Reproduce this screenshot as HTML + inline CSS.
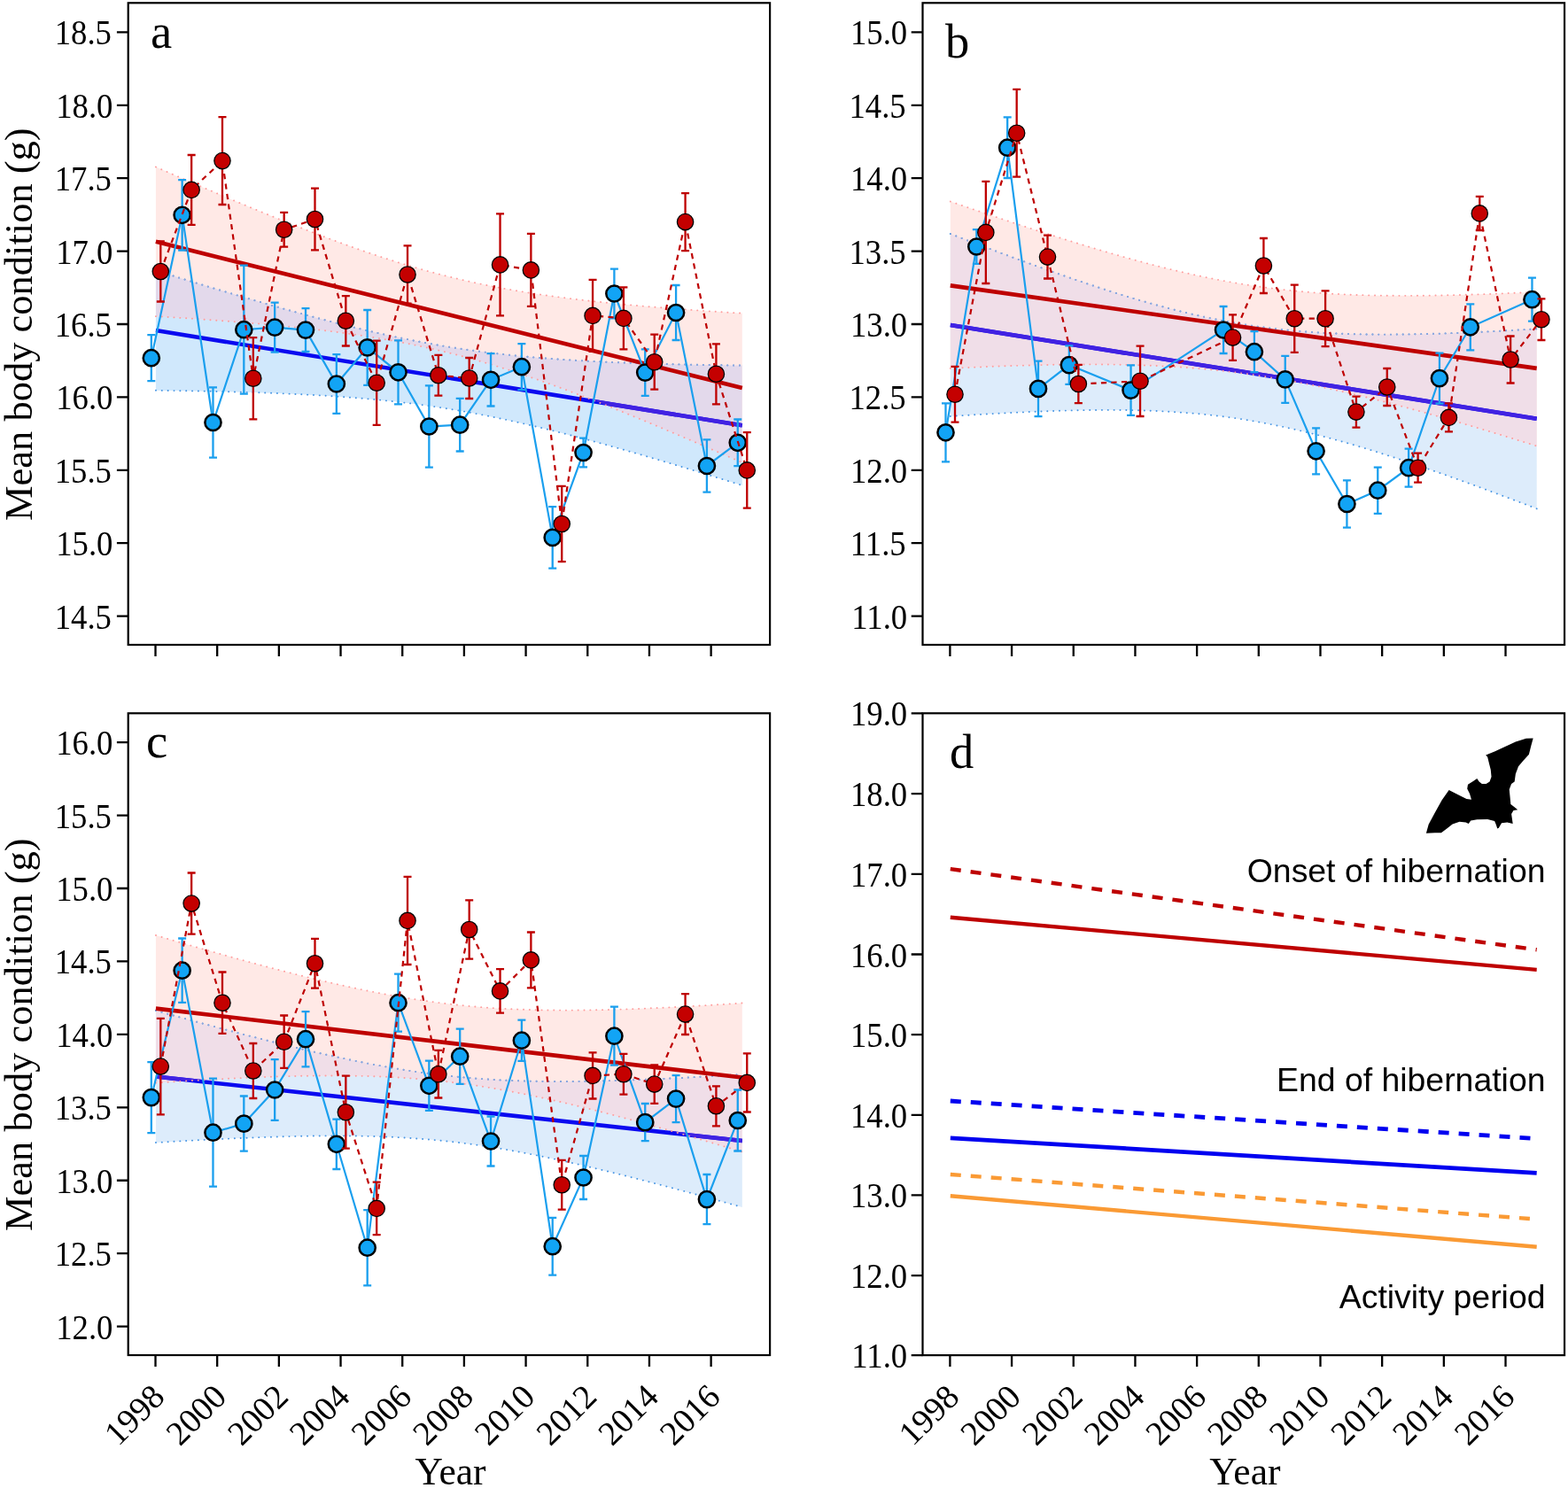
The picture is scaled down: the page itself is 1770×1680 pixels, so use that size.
<!DOCTYPE html>
<html lang="en"><head><meta charset="utf-8"><title>Mean body condition by year</title>
<style>html,body{margin:0;padding:0;background:#fff}body{width:1770px;height:1680px;overflow:hidden}svg{display:block}text{fill:#000}</style>
</head><body>
<svg width="1770" height="1680" viewBox="0 0 1770 1680" role="img" aria-label="Mean body condition by year, panels a to d">
<rect width="1770" height="1680" fill="#fff"/>
<g id="panel-a">
<clipPath id="clip-a"><polygon points="175.9,188.5 186.93,193.32 197.96,198.13 209,202.91 220.03,207.67 231.06,212.41 242.09,217.12 253.12,221.8 264.15,226.45 275.19,231.07 286.22,235.64 297.25,240.18 308.28,244.68 319.31,249.13 330.34,253.53 341.38,257.87 352.41,262.15 363.44,266.36 374.47,270.5 385.5,274.57 396.53,278.55 407.56,282.44 418.6,286.24 429.63,289.93 440.66,293.51 451.69,296.97 462.72,300.32 473.75,303.54 484.79,306.63 495.82,309.58 506.85,312.4 517.88,315.08 528.91,317.63 539.95,320.05 550.98,322.33 562.01,324.49 573.04,326.53 584.07,328.46 595.1,330.27 606.13,331.98 617.17,333.6 628.2,335.12 639.23,336.56 650.26,337.93 661.29,339.22 672.33,340.45 683.36,341.61 694.39,342.72 705.42,343.78 716.45,344.79 727.48,345.76 738.51,346.69 749.55,347.58 760.58,348.44 771.61,349.27 782.64,350.07 793.67,350.84 804.7,351.59 815.74,352.31 826.77,353.02 837.8,353.7 837.8,522.3 826.77,517.48 815.74,512.68 804.7,507.89 793.67,503.13 782.64,498.4 771.61,493.69 760.58,489.01 749.55,484.36 738.51,479.75 727.48,475.17 716.45,470.63 705.42,466.14 694.39,461.69 683.36,457.29 672.33,452.95 661.29,448.67 650.26,444.46 639.23,440.32 628.2,436.25 617.17,432.27 606.13,428.38 595.1,424.58 584.07,420.89 573.04,417.31 562.01,413.84 550.98,410.49 539.95,407.27 528.91,404.18 517.88,401.22 506.85,398.4 495.82,395.71 484.79,393.16 473.75,390.74 462.72,388.45 451.69,386.29 440.66,384.25 429.63,382.33 418.6,380.51 407.56,378.8 396.53,377.18 385.5,375.66 374.47,374.22 363.44,372.85 352.41,371.56 341.38,370.33 330.34,369.17 319.31,368.06 308.28,367 297.25,365.99 286.22,365.02 275.19,364.09 264.15,363.2 253.12,362.35 242.09,361.52 231.06,360.72 220.03,359.95 209,359.21 197.96,358.48 186.93,357.78 175.9,357.1"/></clipPath>
<polygon points="175.9,305.4 186.93,308.83 197.96,312.25 209,315.65 220.03,319.03 231.06,322.4 242.09,325.74 253.12,329.05 264.15,332.34 275.19,335.61 286.22,338.84 297.25,342.04 308.28,345.21 319.31,348.34 330.34,351.43 341.38,354.47 352.41,357.46 363.44,360.41 374.47,363.29 385.5,366.11 396.53,368.87 407.56,371.55 418.6,374.15 429.63,376.68 440.66,379.12 451.69,381.46 462.72,383.72 473.75,385.87 484.79,387.92 495.82,389.86 506.85,391.7 517.88,393.43 528.91,395.06 539.95,396.58 550.98,398 562.01,399.32 573.04,400.54 584.07,401.68 595.1,402.73 606.13,403.69 617.17,404.58 628.2,405.4 639.23,406.15 650.26,406.84 661.29,407.47 672.33,408.05 683.36,408.59 694.39,409.07 705.42,409.52 716.45,409.92 727.48,410.3 738.51,410.64 749.55,410.95 760.58,411.23 771.61,411.49 782.64,411.72 793.67,411.93 804.7,412.13 815.74,412.3 826.77,412.46 837.8,412.6 837.8,548 826.77,544.57 815.74,541.15 804.7,537.75 793.67,534.37 782.64,531.01 771.61,527.67 760.58,524.36 749.55,521.07 738.51,517.8 727.48,514.57 716.45,511.37 705.42,508.2 694.39,505.07 683.36,501.99 672.33,498.95 661.29,495.95 650.26,493.01 639.23,490.13 628.2,487.31 617.17,484.55 606.13,481.87 595.1,479.26 584.07,476.74 573.04,474.3 562.01,471.95 550.98,469.69 539.95,467.54 528.91,465.49 517.88,463.54 506.85,461.7 495.82,459.97 484.79,458.34 473.75,456.81 462.72,455.39 451.69,454.07 440.66,452.84 429.63,451.71 418.6,450.66 407.56,449.69 396.53,448.8 385.5,447.98 374.47,447.23 363.44,446.54 352.41,445.91 341.38,445.33 330.34,444.8 319.31,444.31 308.28,443.87 297.25,443.46 286.22,443.09 275.19,442.75 264.15,442.44 253.12,442.16 242.09,441.9 231.06,441.67 220.03,441.46 209,441.27 197.96,441.1 186.93,440.94 175.9,440.8" fill="#D0E8FC"/>
<polygon points="175.9,188.5 186.93,193.32 197.96,198.13 209,202.91 220.03,207.67 231.06,212.41 242.09,217.12 253.12,221.8 264.15,226.45 275.19,231.07 286.22,235.64 297.25,240.18 308.28,244.68 319.31,249.13 330.34,253.53 341.38,257.87 352.41,262.15 363.44,266.36 374.47,270.5 385.5,274.57 396.53,278.55 407.56,282.44 418.6,286.24 429.63,289.93 440.66,293.51 451.69,296.97 462.72,300.32 473.75,303.54 484.79,306.63 495.82,309.58 506.85,312.4 517.88,315.08 528.91,317.63 539.95,320.05 550.98,322.33 562.01,324.49 573.04,326.53 584.07,328.46 595.1,330.27 606.13,331.98 617.17,333.6 628.2,335.12 639.23,336.56 650.26,337.93 661.29,339.22 672.33,340.45 683.36,341.61 694.39,342.72 705.42,343.78 716.45,344.79 727.48,345.76 738.51,346.69 749.55,347.58 760.58,348.44 771.61,349.27 782.64,350.07 793.67,350.84 804.7,351.59 815.74,352.31 826.77,353.02 837.8,353.7 837.8,522.3 826.77,517.48 815.74,512.68 804.7,507.89 793.67,503.13 782.64,498.4 771.61,493.69 760.58,489.01 749.55,484.36 738.51,479.75 727.48,475.17 716.45,470.63 705.42,466.14 694.39,461.69 683.36,457.29 672.33,452.95 661.29,448.67 650.26,444.46 639.23,440.32 628.2,436.25 617.17,432.27 606.13,428.38 595.1,424.58 584.07,420.89 573.04,417.31 562.01,413.84 550.98,410.49 539.95,407.27 528.91,404.18 517.88,401.22 506.85,398.4 495.82,395.71 484.79,393.16 473.75,390.74 462.72,388.45 451.69,386.29 440.66,384.25 429.63,382.33 418.6,380.51 407.56,378.8 396.53,377.18 385.5,375.66 374.47,374.22 363.44,372.85 352.41,371.56 341.38,370.33 330.34,369.17 319.31,368.06 308.28,367 297.25,365.99 286.22,365.02 275.19,364.09 264.15,363.2 253.12,362.35 242.09,361.52 231.06,360.72 220.03,359.95 209,359.21 197.96,358.48 186.93,357.78 175.9,357.1" fill="#FFE9E6"/>
<polygon points="175.9,305.4 186.93,308.83 197.96,312.25 209,315.65 220.03,319.03 231.06,322.4 242.09,325.74 253.12,329.05 264.15,332.34 275.19,335.61 286.22,338.84 297.25,342.04 308.28,345.21 319.31,348.34 330.34,351.43 341.38,354.47 352.41,357.46 363.44,360.41 374.47,363.29 385.5,366.11 396.53,368.87 407.56,371.55 418.6,374.15 429.63,376.68 440.66,379.12 451.69,381.46 462.72,383.72 473.75,385.87 484.79,387.92 495.82,389.86 506.85,391.7 517.88,393.43 528.91,395.06 539.95,396.58 550.98,398 562.01,399.32 573.04,400.54 584.07,401.68 595.1,402.73 606.13,403.69 617.17,404.58 628.2,405.4 639.23,406.15 650.26,406.84 661.29,407.47 672.33,408.05 683.36,408.59 694.39,409.07 705.42,409.52 716.45,409.92 727.48,410.3 738.51,410.64 749.55,410.95 760.58,411.23 771.61,411.49 782.64,411.72 793.67,411.93 804.7,412.13 815.74,412.3 826.77,412.46 837.8,412.6 837.8,548 826.77,544.57 815.74,541.15 804.7,537.75 793.67,534.37 782.64,531.01 771.61,527.67 760.58,524.36 749.55,521.07 738.51,517.8 727.48,514.57 716.45,511.37 705.42,508.2 694.39,505.07 683.36,501.99 672.33,498.95 661.29,495.95 650.26,493.01 639.23,490.13 628.2,487.31 617.17,484.55 606.13,481.87 595.1,479.26 584.07,476.74 573.04,474.3 562.01,471.95 550.98,469.69 539.95,467.54 528.91,465.49 517.88,463.54 506.85,461.7 495.82,459.97 484.79,458.34 473.75,456.81 462.72,455.39 451.69,454.07 440.66,452.84 429.63,451.71 418.6,450.66 407.56,449.69 396.53,448.8 385.5,447.98 374.47,447.23 363.44,446.54 352.41,445.91 341.38,445.33 330.34,444.8 319.31,444.31 308.28,443.87 297.25,443.46 286.22,443.09 275.19,442.75 264.15,442.44 253.12,442.16 242.09,441.9 231.06,441.67 220.03,441.46 209,441.27 197.96,441.1 186.93,440.94 175.9,440.8" fill="#E3D9EB" clip-path="url(#clip-a)"/>
<polyline points="175.9,305.4 186.93,308.83 197.96,312.25 209,315.65 220.03,319.03 231.06,322.4 242.09,325.74 253.12,329.05 264.15,332.34 275.19,335.61 286.22,338.84 297.25,342.04 308.28,345.21 319.31,348.34 330.34,351.43 341.38,354.47 352.41,357.46 363.44,360.41 374.47,363.29 385.5,366.11 396.53,368.87 407.56,371.55 418.6,374.15 429.63,376.68 440.66,379.12 451.69,381.46 462.72,383.72 473.75,385.87 484.79,387.92 495.82,389.86 506.85,391.7 517.88,393.43 528.91,395.06 539.95,396.58 550.98,398 562.01,399.32 573.04,400.54 584.07,401.68 595.1,402.73 606.13,403.69 617.17,404.58 628.2,405.4 639.23,406.15 650.26,406.84 661.29,407.47 672.33,408.05 683.36,408.59 694.39,409.07 705.42,409.52 716.45,409.92 727.48,410.3 738.51,410.64 749.55,410.95 760.58,411.23 771.61,411.49 782.64,411.72 793.67,411.93 804.7,412.13 815.74,412.3 826.77,412.46 837.8,412.6" stroke="#4896E4" fill="none" stroke-width="1.9" stroke-linecap="round" stroke-dasharray="0.1 6.75"/>
<polyline points="175.9,305.4 186.93,308.83 197.96,312.25 209,315.65 220.03,319.03 231.06,322.4 242.09,325.74 253.12,329.05 264.15,332.34 275.19,335.61 286.22,338.84 297.25,342.04 308.28,345.21 319.31,348.34 330.34,351.43 341.38,354.47 352.41,357.46 363.44,360.41 374.47,363.29 385.5,366.11 396.53,368.87 407.56,371.55 418.6,374.15 429.63,376.68 440.66,379.12 451.69,381.46 462.72,383.72 473.75,385.87 484.79,387.92 495.82,389.86 506.85,391.7 517.88,393.43 528.91,395.06 539.95,396.58 550.98,398 562.01,399.32 573.04,400.54 584.07,401.68 595.1,402.73 606.13,403.69 617.17,404.58 628.2,405.4 639.23,406.15 650.26,406.84 661.29,407.47 672.33,408.05 683.36,408.59 694.39,409.07 705.42,409.52 716.45,409.92 727.48,410.3 738.51,410.64 749.55,410.95 760.58,411.23 771.61,411.49 782.64,411.72 793.67,411.93 804.7,412.13 815.74,412.3 826.77,412.46 837.8,412.6" stroke="#8FA6DE" fill="none" stroke-width="1.9" stroke-linecap="round" stroke-dasharray="0.1 6.75" clip-path="url(#clip-a)"/>
<polyline points="175.9,440.8 186.93,440.94 197.96,441.1 209,441.27 220.03,441.46 231.06,441.67 242.09,441.9 253.12,442.16 264.15,442.44 275.19,442.75 286.22,443.09 297.25,443.46 308.28,443.87 319.31,444.31 330.34,444.8 341.38,445.33 352.41,445.91 363.44,446.54 374.47,447.23 385.5,447.98 396.53,448.8 407.56,449.69 418.6,450.66 429.63,451.71 440.66,452.84 451.69,454.07 462.72,455.39 473.75,456.81 484.79,458.34 495.82,459.97 506.85,461.7 517.88,463.54 528.91,465.49 539.95,467.54 550.98,469.69 562.01,471.95 573.04,474.3 584.07,476.74 595.1,479.26 606.13,481.87 617.17,484.55 628.2,487.31 639.23,490.13 650.26,493.01 661.29,495.95 672.33,498.95 683.36,501.99 694.39,505.07 705.42,508.2 716.45,511.37 727.48,514.57 738.51,517.8 749.55,521.07 760.58,524.36 771.61,527.67 782.64,531.01 793.67,534.37 804.7,537.75 815.74,541.15 826.77,544.57 837.8,548" stroke="#4896E4" fill="none" stroke-width="1.9" stroke-linecap="round" stroke-dasharray="0.1 6.75"/>
<polyline points="175.9,440.8 186.93,440.94 197.96,441.1 209,441.27 220.03,441.46 231.06,441.67 242.09,441.9 253.12,442.16 264.15,442.44 275.19,442.75 286.22,443.09 297.25,443.46 308.28,443.87 319.31,444.31 330.34,444.8 341.38,445.33 352.41,445.91 363.44,446.54 374.47,447.23 385.5,447.98 396.53,448.8 407.56,449.69 418.6,450.66 429.63,451.71 440.66,452.84 451.69,454.07 462.72,455.39 473.75,456.81 484.79,458.34 495.82,459.97 506.85,461.7 517.88,463.54 528.91,465.49 539.95,467.54 550.98,469.69 562.01,471.95 573.04,474.3 584.07,476.74 595.1,479.26 606.13,481.87 617.17,484.55 628.2,487.31 639.23,490.13 650.26,493.01 661.29,495.95 672.33,498.95 683.36,501.99 694.39,505.07 705.42,508.2 716.45,511.37 727.48,514.57 738.51,517.8 749.55,521.07 760.58,524.36 771.61,527.67 782.64,531.01 793.67,534.37 804.7,537.75 815.74,541.15 826.77,544.57 837.8,548" stroke="#8FA6DE" fill="none" stroke-width="1.9" stroke-linecap="round" stroke-dasharray="0.1 6.75" clip-path="url(#clip-a)"/>
<line x1="175.9" y1="373.1" x2="837.8" y2="480.3" stroke="#0A0AF0" stroke-width="4.6"/>
<line x1="175.9" y1="373.1" x2="837.8" y2="480.3" stroke="#4122E2" stroke-width="4.6" clip-path="url(#clip-a)"/>
<polyline points="175.9,188.5 186.93,193.32 197.96,198.13 209,202.91 220.03,207.67 231.06,212.41 242.09,217.12 253.12,221.8 264.15,226.45 275.19,231.07 286.22,235.64 297.25,240.18 308.28,244.68 319.31,249.13 330.34,253.53 341.38,257.87 352.41,262.15 363.44,266.36 374.47,270.5 385.5,274.57 396.53,278.55 407.56,282.44 418.6,286.24 429.63,289.93 440.66,293.51 451.69,296.97 462.72,300.32 473.75,303.54 484.79,306.63 495.82,309.58 506.85,312.4 517.88,315.08 528.91,317.63 539.95,320.05 550.98,322.33 562.01,324.49 573.04,326.53 584.07,328.46 595.1,330.27 606.13,331.98 617.17,333.6 628.2,335.12 639.23,336.56 650.26,337.93 661.29,339.22 672.33,340.45 683.36,341.61 694.39,342.72 705.42,343.78 716.45,344.79 727.48,345.76 738.51,346.69 749.55,347.58 760.58,348.44 771.61,349.27 782.64,350.07 793.67,350.84 804.7,351.59 815.74,352.31 826.77,353.02 837.8,353.7" stroke="#FF9E9E" fill="none" stroke-width="1.9" stroke-linecap="round" stroke-dasharray="0.1 6.75"/>
<polyline points="175.9,357.1 186.93,357.78 197.96,358.48 209,359.21 220.03,359.95 231.06,360.72 242.09,361.52 253.12,362.35 264.15,363.2 275.19,364.09 286.22,365.02 297.25,365.99 308.28,367 319.31,368.06 330.34,369.17 341.38,370.33 352.41,371.56 363.44,372.85 374.47,374.22 385.5,375.66 396.53,377.18 407.56,378.8 418.6,380.51 429.63,382.33 440.66,384.25 451.69,386.29 462.72,388.45 473.75,390.74 484.79,393.16 495.82,395.71 506.85,398.4 517.88,401.22 528.91,404.18 539.95,407.27 550.98,410.49 562.01,413.84 573.04,417.31 584.07,420.89 595.1,424.58 606.13,428.38 617.17,432.27 628.2,436.25 639.23,440.32 650.26,444.46 661.29,448.67 672.33,452.95 683.36,457.29 694.39,461.69 705.42,466.14 716.45,470.63 727.48,475.17 738.51,479.75 749.55,484.36 760.58,489.01 771.61,493.69 782.64,498.4 793.67,503.13 804.7,507.89 815.74,512.68 826.77,517.48 837.8,522.3" stroke="#FF9E9E" fill="none" stroke-width="1.9" stroke-linecap="round" stroke-dasharray="0.1 6.75"/>
<line x1="175.9" y1="272.8" x2="837.8" y2="438" stroke="#BE0000" stroke-width="4.6"/>
<path d="M170.8 378.2V430.2 M166.3 378.2h9 M166.3 430.2h9 M205.64 203.1V282.5 M201.14 203.1h9 M201.14 282.5h9 M240.48 437.3V516.7 M235.98 437.3h9 M235.98 516.7h9 M275.32 299.7V444.7 M270.82 299.7h9 M270.82 444.7h9 M310.16 341.6V397.6 M305.66 341.6h9 M305.66 397.6h9 M345 348.2V397 M340.5 348.2h9 M340.5 397h9 M379.84 400.2V466.8 M375.34 400.2h9 M375.34 466.8h9 M414.68 350V434.8 M410.18 350h9 M410.18 434.8h9 M449.52 384.3V456.3 M445.02 384.3h9 M445.02 456.3h9 M484.36 435.3V527.7 M479.86 435.3h9 M479.86 527.7h9 M519.2 449.9V509.5 M514.7 449.9h9 M514.7 509.5h9 M554.04 399.1V458.5 M549.54 399.1h9 M549.54 458.5h9 M588.88 388.2V440.2 M584.38 388.2h9 M584.38 440.2h9 M623.72 572.1V641.7 M619.22 572.1h9 M619.22 641.7h9 M658.56 494.6V527.4 M654.06 494.6h9 M654.06 527.4h9 M693.4 303.6V359.4 M688.9 303.6h9 M688.9 359.4h9 M728.24 394.3V446.9 M723.74 394.3h9 M723.74 446.9h9 M763.08 322V384 M758.58 322h9 M758.58 384h9 M797.92 496.4V555.6 M793.42 496.4h9 M793.42 555.6h9 M832.76 473.5V526.1 M828.26 473.5h9 M828.26 526.1h9" fill="none" stroke="#1A9FEE" stroke-width="2.3"/>
<polyline points="170.8,404.2 205.64,242.8 240.48,477 275.32,372.2 310.16,369.6 345,372.6 379.84,433.5 414.68,392.4 449.52,420.3 484.36,481.5 519.2,479.7 554.04,428.8 588.88,414.2 623.72,606.9 658.56,511 693.4,331.5 728.24,420.6 763.08,353 797.92,526 832.76,499.8" fill="none" stroke="#1A9FEE" stroke-width="2.2"/>
<circle cx="170.8" cy="404.2" r="9.1" fill="#12A4F5" stroke="#000" stroke-width="2.5"/>
<circle cx="205.64" cy="242.8" r="9.1" fill="#12A4F5" stroke="#000" stroke-width="2.5"/>
<circle cx="240.48" cy="477" r="9.1" fill="#12A4F5" stroke="#000" stroke-width="2.5"/>
<circle cx="275.32" cy="372.2" r="9.1" fill="#12A4F5" stroke="#000" stroke-width="2.5"/>
<circle cx="310.16" cy="369.6" r="9.1" fill="#12A4F5" stroke="#000" stroke-width="2.5"/>
<circle cx="345" cy="372.6" r="9.1" fill="#12A4F5" stroke="#000" stroke-width="2.5"/>
<circle cx="379.84" cy="433.5" r="9.1" fill="#12A4F5" stroke="#000" stroke-width="2.5"/>
<circle cx="414.68" cy="392.4" r="9.1" fill="#12A4F5" stroke="#000" stroke-width="2.5"/>
<circle cx="449.52" cy="420.3" r="9.1" fill="#12A4F5" stroke="#000" stroke-width="2.5"/>
<circle cx="484.36" cy="481.5" r="9.1" fill="#12A4F5" stroke="#000" stroke-width="2.5"/>
<circle cx="519.2" cy="479.7" r="9.1" fill="#12A4F5" stroke="#000" stroke-width="2.5"/>
<circle cx="554.04" cy="428.8" r="9.1" fill="#12A4F5" stroke="#000" stroke-width="2.5"/>
<circle cx="588.88" cy="414.2" r="9.1" fill="#12A4F5" stroke="#000" stroke-width="2.5"/>
<circle cx="623.72" cy="606.9" r="9.1" fill="#12A4F5" stroke="#000" stroke-width="2.5"/>
<circle cx="658.56" cy="511" r="9.1" fill="#12A4F5" stroke="#000" stroke-width="2.5"/>
<circle cx="693.4" cy="331.5" r="9.1" fill="#12A4F5" stroke="#000" stroke-width="2.5"/>
<circle cx="728.24" cy="420.6" r="9.1" fill="#12A4F5" stroke="#000" stroke-width="2.5"/>
<circle cx="763.08" cy="353" r="9.1" fill="#12A4F5" stroke="#000" stroke-width="2.5"/>
<circle cx="797.92" cy="526" r="9.1" fill="#12A4F5" stroke="#000" stroke-width="2.5"/>
<circle cx="832.76" cy="499.8" r="9.1" fill="#12A4F5" stroke="#000" stroke-width="2.5"/>
<path d="M181.3 272.5V340.5 M176.8 272.5h9 M176.8 340.5h9 M216.14 175V253.8 M211.64 175h9 M211.64 253.8h9 M250.98 132.2V231 M246.48 132.2h9 M246.48 231h9 M285.82 381.2V473.4 M281.32 381.2h9 M281.32 473.4h9 M320.66 239.9V278.7 M316.16 239.9h9 M316.16 278.7h9 M355.5 212.6V282.4 M351 212.6h9 M351 282.4h9 M390.34 334.1V390.5 M385.84 334.1h9 M385.84 390.5h9 M425.18 384.7V479.9 M420.68 384.7h9 M420.68 479.9h9 M460.02 277.3V342.7 M455.52 277.3h9 M455.52 342.7h9 M494.86 400.8V446.6 M490.36 400.8h9 M490.36 446.6h9 M529.7 404V450 M525.2 404h9 M525.2 450h9 M564.54 241.4V356.4 M560.04 241.4h9 M560.04 356.4h9 M599.38 263.9V345.9 M594.88 263.9h9 M594.88 345.9h9 M634.22 548.9V634.1 M629.72 548.9h9 M629.72 634.1h9 M669.06 315.9V396.9 M664.56 315.9h9 M664.56 396.9h9 M703.9 324.4V394.4 M699.4 324.4h9 M699.4 394.4h9 M738.74 377.7V439.7 M734.24 377.7h9 M734.24 439.7h9 M773.58 218.1V283.1 M769.08 218.1h9 M769.08 283.1h9 M808.42 388.3V456.3 M803.92 388.3h9 M803.92 456.3h9 M843.26 488.1V573.7 M838.76 488.1h9 M838.76 573.7h9" fill="none" stroke="#BE0000" stroke-width="2.3"/>
<polyline points="181.3,306.5 216.14,214.4 250.98,181.6 285.82,427.3 320.66,259.3 355.5,247.5 390.34,362.3 425.18,432.3 460.02,310 494.86,423.7 529.7,427 564.54,298.9 599.38,304.9 634.22,591.5 669.06,356.4 703.9,359.4 738.74,408.7 773.58,250.6 808.42,422.3 843.26,530.9" fill="none" stroke="#BE0000" stroke-width="2.2" stroke-dasharray="6.2 5.3"/>
<circle cx="181.3" cy="306.5" r="9.15" fill="#C40000" stroke="#000" stroke-width="1.3"/>
<circle cx="216.14" cy="214.4" r="9.15" fill="#C40000" stroke="#000" stroke-width="1.3"/>
<circle cx="250.98" cy="181.6" r="9.15" fill="#C40000" stroke="#000" stroke-width="1.3"/>
<circle cx="285.82" cy="427.3" r="9.15" fill="#C40000" stroke="#000" stroke-width="1.3"/>
<circle cx="320.66" cy="259.3" r="9.15" fill="#C40000" stroke="#000" stroke-width="1.3"/>
<circle cx="355.5" cy="247.5" r="9.15" fill="#C40000" stroke="#000" stroke-width="1.3"/>
<circle cx="390.34" cy="362.3" r="9.15" fill="#C40000" stroke="#000" stroke-width="1.3"/>
<circle cx="425.18" cy="432.3" r="9.15" fill="#C40000" stroke="#000" stroke-width="1.3"/>
<circle cx="460.02" cy="310" r="9.15" fill="#C40000" stroke="#000" stroke-width="1.3"/>
<circle cx="494.86" cy="423.7" r="9.15" fill="#C40000" stroke="#000" stroke-width="1.3"/>
<circle cx="529.7" cy="427" r="9.15" fill="#C40000" stroke="#000" stroke-width="1.3"/>
<circle cx="564.54" cy="298.9" r="9.15" fill="#C40000" stroke="#000" stroke-width="1.3"/>
<circle cx="599.38" cy="304.9" r="9.15" fill="#C40000" stroke="#000" stroke-width="1.3"/>
<circle cx="634.22" cy="591.5" r="9.15" fill="#C40000" stroke="#000" stroke-width="1.3"/>
<circle cx="669.06" cy="356.4" r="9.15" fill="#C40000" stroke="#000" stroke-width="1.3"/>
<circle cx="703.9" cy="359.4" r="9.15" fill="#C40000" stroke="#000" stroke-width="1.3"/>
<circle cx="738.74" cy="408.7" r="9.15" fill="#C40000" stroke="#000" stroke-width="1.3"/>
<circle cx="773.58" cy="250.6" r="9.15" fill="#C40000" stroke="#000" stroke-width="1.3"/>
<circle cx="808.42" cy="422.3" r="9.15" fill="#C40000" stroke="#000" stroke-width="1.3"/>
<circle cx="843.26" cy="530.9" r="9.15" fill="#C40000" stroke="#000" stroke-width="1.3"/>
<rect x="144.7" y="3.3" width="724.4" height="724.7" fill="none" stroke="#000" stroke-width="2.2"/>
<path d="M144.7 36.4h-12.8 M144.7 118.8h-12.8 M144.7 201.2h-12.8 M144.7 283.6h-12.8 M144.7 366h-12.8 M144.7 448.4h-12.8 M144.7 530.8h-12.8 M144.7 613.2h-12.8 M144.7 695.6h-12.8 M175.5 728v12.9 M245.18 728v12.9 M314.86 728v12.9 M384.54 728v12.9 M454.22 728v12.9 M523.9 728v12.9 M593.58 728v12.9 M663.26 728v12.9 M732.94 728v12.9 M802.62 728v12.9" fill="none" stroke="#000" stroke-width="2.3"/>
<g font-family='"Liberation Serif", serif' font-size="41" text-anchor="end">
<text transform="translate(125.9 50.4) scale(0.895 1)">18.5</text>
<text transform="translate(127.4 132.8) scale(0.895 1)">18.0</text>
<text transform="translate(125.9 215.2) scale(0.895 1)">17.5</text>
<text transform="translate(127.4 297.6) scale(0.895 1)">17.0</text>
<text transform="translate(125.9 380) scale(0.895 1)">16.5</text>
<text transform="translate(127.4 462.4) scale(0.895 1)">16.0</text>
<text transform="translate(125.9 544.8) scale(0.895 1)">15.5</text>
<text transform="translate(127.4 627.2) scale(0.895 1)">15.0</text>
<text transform="translate(125.9 709.6) scale(0.895 1)">14.5</text>
</g>
<text x="170" y="53.7" font-family='"Liberation Serif", serif' font-size="54.5">a</text>
<text transform="translate(36 366.15) rotate(-90)" font-family='"Liberation Serif", serif' font-size="44.5" text-anchor="middle">Mean body condition (g)</text>
</g>
<g id="panel-b">
<clipPath id="clip-b"><polygon points="1072.8,227.5 1083.83,231.29 1094.86,235.05 1105.89,238.8 1116.93,242.52 1127.96,246.22 1138.99,249.9 1150.02,253.54 1161.05,257.15 1172.09,260.74 1183.12,264.28 1194.15,267.79 1205.18,271.25 1216.21,274.67 1227.24,278.04 1238.27,281.36 1249.31,284.62 1260.34,287.81 1271.37,290.94 1282.4,293.99 1293.43,296.97 1304.46,299.86 1315.5,302.65 1326.53,305.35 1337.56,307.95 1348.59,310.43 1359.62,312.79 1370.65,315.04 1381.69,317.15 1392.72,319.13 1403.75,320.98 1414.78,322.69 1425.81,324.25 1436.84,325.69 1447.88,326.99 1458.91,328.17 1469.94,329.21 1480.97,330.14 1492,330.95 1503.03,331.64 1514.07,332.23 1525.1,332.72 1536.13,333.11 1547.16,333.41 1558.19,333.63 1569.22,333.77 1580.26,333.84 1591.29,333.84 1602.32,333.78 1613.35,333.66 1624.38,333.49 1635.41,333.27 1646.45,333 1657.48,332.69 1668.51,332.35 1679.54,331.96 1690.57,331.55 1701.61,331.1 1712.64,330.63 1723.67,330.13 1734.7,329.6 1734.7,503.6 1723.67,500.14 1712.64,496.71 1701.61,493.3 1690.57,489.92 1679.54,486.58 1668.51,483.26 1657.48,479.98 1646.45,476.74 1635.41,473.53 1624.38,470.37 1613.35,467.26 1602.32,464.19 1591.29,461.18 1580.26,458.22 1569.22,455.32 1558.19,452.48 1547.16,449.71 1536.13,447.02 1525.1,444.4 1514.07,441.86 1503.03,439.4 1492,437.03 1480.97,434.76 1469.94,432.58 1458.91,430.5 1447.88,428.52 1436.84,426.65 1425.81,424.88 1414.78,423.22 1403.75,421.67 1392.72,420.24 1381.69,418.93 1370.65,417.75 1359.62,416.67 1348.59,415.72 1337.56,414.87 1326.53,414.13 1315.5,413.48 1304.46,412.94 1293.43,412.49 1282.4,412.12 1271.37,411.83 1260.34,411.62 1249.31,411.49 1238.27,411.42 1227.24,411.41 1216.21,411.46 1205.18,411.56 1194.15,411.72 1183.12,411.92 1172.09,412.16 1161.05,412.45 1150.02,412.77 1138.99,413.13 1127.96,413.52 1116.93,413.94 1105.89,414.4 1094.86,414.87 1083.83,415.37 1072.8,415.9"/></clipPath>
<polygon points="1072.8,264 1083.83,268.24 1094.86,272.46 1105.89,276.65 1116.93,280.82 1127.96,284.95 1138.99,289.05 1150.02,293.12 1161.05,297.14 1172.09,301.13 1183.12,305.07 1194.15,308.96 1205.18,312.8 1216.21,316.58 1227.24,320.3 1238.27,323.95 1249.31,327.53 1260.34,331.03 1271.37,334.45 1282.4,337.77 1293.43,340.99 1304.46,344.1 1315.5,347.1 1326.53,349.98 1337.56,352.73 1348.59,355.35 1359.62,357.82 1370.65,360.15 1381.69,362.32 1392.72,364.34 1403.75,366.2 1414.78,367.9 1425.81,369.45 1436.84,370.85 1447.88,372.1 1458.91,373.2 1469.94,374.16 1480.97,374.99 1492,375.69 1503.03,376.28 1514.07,376.74 1525.1,377.1 1536.13,377.36 1547.16,377.53 1558.19,377.61 1569.22,377.62 1580.26,377.55 1591.29,377.41 1602.32,377.2 1613.35,376.94 1624.38,376.63 1635.41,376.26 1646.45,375.85 1657.48,375.4 1668.51,374.91 1679.54,374.39 1690.57,373.83 1701.61,373.24 1712.64,372.62 1723.67,371.97 1734.7,371.3 1734.7,574.3 1723.67,570.1 1712.64,565.93 1701.61,561.78 1690.57,557.67 1679.54,553.58 1668.51,549.53 1657.48,545.51 1646.45,541.53 1635.41,537.6 1624.38,533.71 1613.35,529.86 1602.32,526.08 1591.29,522.35 1580.26,518.68 1569.22,515.08 1558.19,511.56 1547.16,508.11 1536.13,504.76 1525.1,501.49 1514.07,498.32 1503.03,495.26 1492,492.32 1480.97,489.49 1469.94,486.8 1458.91,484.23 1447.88,481.81 1436.84,479.53 1425.81,477.4 1414.78,475.42 1403.75,473.6 1392.72,471.93 1381.69,470.43 1370.65,469.07 1359.62,467.87 1348.59,466.82 1337.56,465.91 1326.53,465.13 1315.5,464.48 1304.46,463.96 1293.43,463.54 1282.4,463.24 1271.37,463.03 1260.34,462.92 1249.31,462.89 1238.27,462.95 1227.24,463.07 1216.21,463.26 1205.18,463.52 1194.15,463.83 1183.12,464.2 1172.09,464.61 1161.05,465.07 1150.02,465.57 1138.99,466.11 1127.96,466.68 1116.93,467.29 1105.89,467.93 1094.86,468.59 1083.83,469.28 1072.8,470" fill="#DDECFB"/>
<polygon points="1072.8,227.5 1083.83,231.29 1094.86,235.05 1105.89,238.8 1116.93,242.52 1127.96,246.22 1138.99,249.9 1150.02,253.54 1161.05,257.15 1172.09,260.74 1183.12,264.28 1194.15,267.79 1205.18,271.25 1216.21,274.67 1227.24,278.04 1238.27,281.36 1249.31,284.62 1260.34,287.81 1271.37,290.94 1282.4,293.99 1293.43,296.97 1304.46,299.86 1315.5,302.65 1326.53,305.35 1337.56,307.95 1348.59,310.43 1359.62,312.79 1370.65,315.04 1381.69,317.15 1392.72,319.13 1403.75,320.98 1414.78,322.69 1425.81,324.25 1436.84,325.69 1447.88,326.99 1458.91,328.17 1469.94,329.21 1480.97,330.14 1492,330.95 1503.03,331.64 1514.07,332.23 1525.1,332.72 1536.13,333.11 1547.16,333.41 1558.19,333.63 1569.22,333.77 1580.26,333.84 1591.29,333.84 1602.32,333.78 1613.35,333.66 1624.38,333.49 1635.41,333.27 1646.45,333 1657.48,332.69 1668.51,332.35 1679.54,331.96 1690.57,331.55 1701.61,331.1 1712.64,330.63 1723.67,330.13 1734.7,329.6 1734.7,503.6 1723.67,500.14 1712.64,496.71 1701.61,493.3 1690.57,489.92 1679.54,486.58 1668.51,483.26 1657.48,479.98 1646.45,476.74 1635.41,473.53 1624.38,470.37 1613.35,467.26 1602.32,464.19 1591.29,461.18 1580.26,458.22 1569.22,455.32 1558.19,452.48 1547.16,449.71 1536.13,447.02 1525.1,444.4 1514.07,441.86 1503.03,439.4 1492,437.03 1480.97,434.76 1469.94,432.58 1458.91,430.5 1447.88,428.52 1436.84,426.65 1425.81,424.88 1414.78,423.22 1403.75,421.67 1392.72,420.24 1381.69,418.93 1370.65,417.75 1359.62,416.67 1348.59,415.72 1337.56,414.87 1326.53,414.13 1315.5,413.48 1304.46,412.94 1293.43,412.49 1282.4,412.12 1271.37,411.83 1260.34,411.62 1249.31,411.49 1238.27,411.42 1227.24,411.41 1216.21,411.46 1205.18,411.56 1194.15,411.72 1183.12,411.92 1172.09,412.16 1161.05,412.45 1150.02,412.77 1138.99,413.13 1127.96,413.52 1116.93,413.94 1105.89,414.4 1094.86,414.87 1083.83,415.37 1072.8,415.9" fill="#FFE9E6"/>
<polygon points="1072.8,264 1083.83,268.24 1094.86,272.46 1105.89,276.65 1116.93,280.82 1127.96,284.95 1138.99,289.05 1150.02,293.12 1161.05,297.14 1172.09,301.13 1183.12,305.07 1194.15,308.96 1205.18,312.8 1216.21,316.58 1227.24,320.3 1238.27,323.95 1249.31,327.53 1260.34,331.03 1271.37,334.45 1282.4,337.77 1293.43,340.99 1304.46,344.1 1315.5,347.1 1326.53,349.98 1337.56,352.73 1348.59,355.35 1359.62,357.82 1370.65,360.15 1381.69,362.32 1392.72,364.34 1403.75,366.2 1414.78,367.9 1425.81,369.45 1436.84,370.85 1447.88,372.1 1458.91,373.2 1469.94,374.16 1480.97,374.99 1492,375.69 1503.03,376.28 1514.07,376.74 1525.1,377.1 1536.13,377.36 1547.16,377.53 1558.19,377.61 1569.22,377.62 1580.26,377.55 1591.29,377.41 1602.32,377.2 1613.35,376.94 1624.38,376.63 1635.41,376.26 1646.45,375.85 1657.48,375.4 1668.51,374.91 1679.54,374.39 1690.57,373.83 1701.61,373.24 1712.64,372.62 1723.67,371.97 1734.7,371.3 1734.7,574.3 1723.67,570.1 1712.64,565.93 1701.61,561.78 1690.57,557.67 1679.54,553.58 1668.51,549.53 1657.48,545.51 1646.45,541.53 1635.41,537.6 1624.38,533.71 1613.35,529.86 1602.32,526.08 1591.29,522.35 1580.26,518.68 1569.22,515.08 1558.19,511.56 1547.16,508.11 1536.13,504.76 1525.1,501.49 1514.07,498.32 1503.03,495.26 1492,492.32 1480.97,489.49 1469.94,486.8 1458.91,484.23 1447.88,481.81 1436.84,479.53 1425.81,477.4 1414.78,475.42 1403.75,473.6 1392.72,471.93 1381.69,470.43 1370.65,469.07 1359.62,467.87 1348.59,466.82 1337.56,465.91 1326.53,465.13 1315.5,464.48 1304.46,463.96 1293.43,463.54 1282.4,463.24 1271.37,463.03 1260.34,462.92 1249.31,462.89 1238.27,462.95 1227.24,463.07 1216.21,463.26 1205.18,463.52 1194.15,463.83 1183.12,464.2 1172.09,464.61 1161.05,465.07 1150.02,465.57 1138.99,466.11 1127.96,466.68 1116.93,467.29 1105.89,467.93 1094.86,468.59 1083.83,469.28 1072.8,470" fill="#F0DEE8" clip-path="url(#clip-b)"/>
<polyline points="1072.8,264 1083.83,268.24 1094.86,272.46 1105.89,276.65 1116.93,280.82 1127.96,284.95 1138.99,289.05 1150.02,293.12 1161.05,297.14 1172.09,301.13 1183.12,305.07 1194.15,308.96 1205.18,312.8 1216.21,316.58 1227.24,320.3 1238.27,323.95 1249.31,327.53 1260.34,331.03 1271.37,334.45 1282.4,337.77 1293.43,340.99 1304.46,344.1 1315.5,347.1 1326.53,349.98 1337.56,352.73 1348.59,355.35 1359.62,357.82 1370.65,360.15 1381.69,362.32 1392.72,364.34 1403.75,366.2 1414.78,367.9 1425.81,369.45 1436.84,370.85 1447.88,372.1 1458.91,373.2 1469.94,374.16 1480.97,374.99 1492,375.69 1503.03,376.28 1514.07,376.74 1525.1,377.1 1536.13,377.36 1547.16,377.53 1558.19,377.61 1569.22,377.62 1580.26,377.55 1591.29,377.41 1602.32,377.2 1613.35,376.94 1624.38,376.63 1635.41,376.26 1646.45,375.85 1657.48,375.4 1668.51,374.91 1679.54,374.39 1690.57,373.83 1701.61,373.24 1712.64,372.62 1723.67,371.97 1734.7,371.3" stroke="#4896E4" fill="none" stroke-width="1.9" stroke-linecap="round" stroke-dasharray="0.1 6.75"/>
<polyline points="1072.8,264 1083.83,268.24 1094.86,272.46 1105.89,276.65 1116.93,280.82 1127.96,284.95 1138.99,289.05 1150.02,293.12 1161.05,297.14 1172.09,301.13 1183.12,305.07 1194.15,308.96 1205.18,312.8 1216.21,316.58 1227.24,320.3 1238.27,323.95 1249.31,327.53 1260.34,331.03 1271.37,334.45 1282.4,337.77 1293.43,340.99 1304.46,344.1 1315.5,347.1 1326.53,349.98 1337.56,352.73 1348.59,355.35 1359.62,357.82 1370.65,360.15 1381.69,362.32 1392.72,364.34 1403.75,366.2 1414.78,367.9 1425.81,369.45 1436.84,370.85 1447.88,372.1 1458.91,373.2 1469.94,374.16 1480.97,374.99 1492,375.69 1503.03,376.28 1514.07,376.74 1525.1,377.1 1536.13,377.36 1547.16,377.53 1558.19,377.61 1569.22,377.62 1580.26,377.55 1591.29,377.41 1602.32,377.2 1613.35,376.94 1624.38,376.63 1635.41,376.26 1646.45,375.85 1657.48,375.4 1668.51,374.91 1679.54,374.39 1690.57,373.83 1701.61,373.24 1712.64,372.62 1723.67,371.97 1734.7,371.3" stroke="#8FA6DE" fill="none" stroke-width="1.9" stroke-linecap="round" stroke-dasharray="0.1 6.75" clip-path="url(#clip-b)"/>
<polyline points="1072.8,470 1083.83,469.28 1094.86,468.59 1105.89,467.93 1116.93,467.29 1127.96,466.68 1138.99,466.11 1150.02,465.57 1161.05,465.07 1172.09,464.61 1183.12,464.2 1194.15,463.83 1205.18,463.52 1216.21,463.26 1227.24,463.07 1238.27,462.95 1249.31,462.89 1260.34,462.92 1271.37,463.03 1282.4,463.24 1293.43,463.54 1304.46,463.96 1315.5,464.48 1326.53,465.13 1337.56,465.91 1348.59,466.82 1359.62,467.87 1370.65,469.07 1381.69,470.43 1392.72,471.93 1403.75,473.6 1414.78,475.42 1425.81,477.4 1436.84,479.53 1447.88,481.81 1458.91,484.23 1469.94,486.8 1480.97,489.49 1492,492.32 1503.03,495.26 1514.07,498.32 1525.1,501.49 1536.13,504.76 1547.16,508.11 1558.19,511.56 1569.22,515.08 1580.26,518.68 1591.29,522.35 1602.32,526.08 1613.35,529.86 1624.38,533.71 1635.41,537.6 1646.45,541.53 1657.48,545.51 1668.51,549.53 1679.54,553.58 1690.57,557.67 1701.61,561.78 1712.64,565.93 1723.67,570.1 1734.7,574.3" stroke="#4896E4" fill="none" stroke-width="1.9" stroke-linecap="round" stroke-dasharray="0.1 6.75"/>
<polyline points="1072.8,470 1083.83,469.28 1094.86,468.59 1105.89,467.93 1116.93,467.29 1127.96,466.68 1138.99,466.11 1150.02,465.57 1161.05,465.07 1172.09,464.61 1183.12,464.2 1194.15,463.83 1205.18,463.52 1216.21,463.26 1227.24,463.07 1238.27,462.95 1249.31,462.89 1260.34,462.92 1271.37,463.03 1282.4,463.24 1293.43,463.54 1304.46,463.96 1315.5,464.48 1326.53,465.13 1337.56,465.91 1348.59,466.82 1359.62,467.87 1370.65,469.07 1381.69,470.43 1392.72,471.93 1403.75,473.6 1414.78,475.42 1425.81,477.4 1436.84,479.53 1447.88,481.81 1458.91,484.23 1469.94,486.8 1480.97,489.49 1492,492.32 1503.03,495.26 1514.07,498.32 1525.1,501.49 1536.13,504.76 1547.16,508.11 1558.19,511.56 1569.22,515.08 1580.26,518.68 1591.29,522.35 1602.32,526.08 1613.35,529.86 1624.38,533.71 1635.41,537.6 1646.45,541.53 1657.48,545.51 1668.51,549.53 1679.54,553.58 1690.57,557.67 1701.61,561.78 1712.64,565.93 1723.67,570.1 1734.7,574.3" stroke="#8FA6DE" fill="none" stroke-width="1.9" stroke-linecap="round" stroke-dasharray="0.1 6.75" clip-path="url(#clip-b)"/>
<line x1="1072.8" y1="367" x2="1734.7" y2="472.8" stroke="#0A0AF0" stroke-width="4.6"/>
<line x1="1072.8" y1="367" x2="1734.7" y2="472.8" stroke="#4122E2" stroke-width="4.6" clip-path="url(#clip-b)"/>
<polyline points="1072.8,227.5 1083.83,231.29 1094.86,235.05 1105.89,238.8 1116.93,242.52 1127.96,246.22 1138.99,249.9 1150.02,253.54 1161.05,257.15 1172.09,260.74 1183.12,264.28 1194.15,267.79 1205.18,271.25 1216.21,274.67 1227.24,278.04 1238.27,281.36 1249.31,284.62 1260.34,287.81 1271.37,290.94 1282.4,293.99 1293.43,296.97 1304.46,299.86 1315.5,302.65 1326.53,305.35 1337.56,307.95 1348.59,310.43 1359.62,312.79 1370.65,315.04 1381.69,317.15 1392.72,319.13 1403.75,320.98 1414.78,322.69 1425.81,324.25 1436.84,325.69 1447.88,326.99 1458.91,328.17 1469.94,329.21 1480.97,330.14 1492,330.95 1503.03,331.64 1514.07,332.23 1525.1,332.72 1536.13,333.11 1547.16,333.41 1558.19,333.63 1569.22,333.77 1580.26,333.84 1591.29,333.84 1602.32,333.78 1613.35,333.66 1624.38,333.49 1635.41,333.27 1646.45,333 1657.48,332.69 1668.51,332.35 1679.54,331.96 1690.57,331.55 1701.61,331.1 1712.64,330.63 1723.67,330.13 1734.7,329.6" stroke="#FF9E9E" fill="none" stroke-width="1.9" stroke-linecap="round" stroke-dasharray="0.1 6.75"/>
<polyline points="1072.8,415.9 1083.83,415.37 1094.86,414.87 1105.89,414.4 1116.93,413.94 1127.96,413.52 1138.99,413.13 1150.02,412.77 1161.05,412.45 1172.09,412.16 1183.12,411.92 1194.15,411.72 1205.18,411.56 1216.21,411.46 1227.24,411.41 1238.27,411.42 1249.31,411.49 1260.34,411.62 1271.37,411.83 1282.4,412.12 1293.43,412.49 1304.46,412.94 1315.5,413.48 1326.53,414.13 1337.56,414.87 1348.59,415.72 1359.62,416.67 1370.65,417.75 1381.69,418.93 1392.72,420.24 1403.75,421.67 1414.78,423.22 1425.81,424.88 1436.84,426.65 1447.88,428.52 1458.91,430.5 1469.94,432.58 1480.97,434.76 1492,437.03 1503.03,439.4 1514.07,441.86 1525.1,444.4 1536.13,447.02 1547.16,449.71 1558.19,452.48 1569.22,455.32 1580.26,458.22 1591.29,461.18 1602.32,464.19 1613.35,467.26 1624.38,470.37 1635.41,473.53 1646.45,476.74 1657.48,479.98 1668.51,483.26 1679.54,486.58 1690.57,489.92 1701.61,493.3 1712.64,496.71 1723.67,500.14 1734.7,503.6" stroke="#FF9E9E" fill="none" stroke-width="1.9" stroke-linecap="round" stroke-dasharray="0.1 6.75"/>
<line x1="1072.8" y1="322.4" x2="1734.7" y2="415.9" stroke="#BE0000" stroke-width="4.6"/>
<path d="M1067.5 455.3V521.3 M1063 455.3h9 M1063 521.3h9 M1102.34 259.2V297.8 M1097.84 259.2h9 M1097.84 297.8h9 M1137.18 132.4V201 M1132.68 132.4h9 M1132.68 201h9 M1172.02 407.6V470.2 M1167.52 407.6h9 M1167.52 470.2h9 M1206.86 390.3V433.9 M1202.36 390.3h9 M1202.36 433.9h9 M1276.54 412.3V468.9 M1272.04 412.3h9 M1272.04 468.9h9 M1381.06 346V399 M1376.56 346h9 M1376.56 399h9 M1415.9 374.2V420.2 M1411.4 374.2h9 M1411.4 420.2h9 M1450.74 401.9V454.9 M1446.24 401.9h9 M1446.24 454.9h9 M1485.58 483.3V535.3 M1481.08 483.3h9 M1481.08 535.3h9 M1520.42 542.4V595.6 M1515.92 542.4h9 M1515.92 595.6h9 M1555.26 527.6V579.8 M1550.76 527.6h9 M1550.76 579.8h9 M1590.1 506.7V549.7 M1585.6 506.7h9 M1585.6 549.7h9 M1624.94 398.6V455.6 M1620.44 398.6h9 M1620.44 455.6h9 M1659.78 343.3V395.3 M1655.28 343.3h9 M1655.28 395.3h9 M1729.46 313.7V362.7 M1724.96 313.7h9 M1724.96 362.7h9" fill="none" stroke="#1A9FEE" stroke-width="2.3"/>
<polyline points="1067.5,488.3 1102.34,278.5 1137.18,166.7 1172.02,438.9 1206.86,412.1 1276.54,440.6 1381.06,372.5 1415.9,397.2 1450.74,428.4 1485.58,509.3 1520.42,569 1555.26,553.7 1590.1,528.2 1624.94,427.1 1659.78,369.3 1729.46,338.2" fill="none" stroke="#1A9FEE" stroke-width="2.2"/>
<circle cx="1067.5" cy="488.3" r="9.1" fill="#12A4F5" stroke="#000" stroke-width="2.5"/>
<circle cx="1102.34" cy="278.5" r="9.1" fill="#12A4F5" stroke="#000" stroke-width="2.5"/>
<circle cx="1137.18" cy="166.7" r="9.1" fill="#12A4F5" stroke="#000" stroke-width="2.5"/>
<circle cx="1172.02" cy="438.9" r="9.1" fill="#12A4F5" stroke="#000" stroke-width="2.5"/>
<circle cx="1206.86" cy="412.1" r="9.1" fill="#12A4F5" stroke="#000" stroke-width="2.5"/>
<circle cx="1276.54" cy="440.6" r="9.1" fill="#12A4F5" stroke="#000" stroke-width="2.5"/>
<circle cx="1381.06" cy="372.5" r="9.1" fill="#12A4F5" stroke="#000" stroke-width="2.5"/>
<circle cx="1415.9" cy="397.2" r="9.1" fill="#12A4F5" stroke="#000" stroke-width="2.5"/>
<circle cx="1450.74" cy="428.4" r="9.1" fill="#12A4F5" stroke="#000" stroke-width="2.5"/>
<circle cx="1485.58" cy="509.3" r="9.1" fill="#12A4F5" stroke="#000" stroke-width="2.5"/>
<circle cx="1520.42" cy="569" r="9.1" fill="#12A4F5" stroke="#000" stroke-width="2.5"/>
<circle cx="1555.26" cy="553.7" r="9.1" fill="#12A4F5" stroke="#000" stroke-width="2.5"/>
<circle cx="1590.1" cy="528.2" r="9.1" fill="#12A4F5" stroke="#000" stroke-width="2.5"/>
<circle cx="1624.94" cy="427.1" r="9.1" fill="#12A4F5" stroke="#000" stroke-width="2.5"/>
<circle cx="1659.78" cy="369.3" r="9.1" fill="#12A4F5" stroke="#000" stroke-width="2.5"/>
<circle cx="1729.46" cy="338.2" r="9.1" fill="#12A4F5" stroke="#000" stroke-width="2.5"/>
<path d="M1078 413.9V476.7 M1073.5 413.9h9 M1073.5 476.7h9 M1112.84 204.8V320 M1108.34 204.8h9 M1108.34 320h9 M1147.68 100.8V199.6 M1143.18 100.8h9 M1143.18 199.6h9 M1182.52 265.7V314.5 M1178.02 265.7h9 M1178.02 314.5h9 M1217.36 411.8V455.2 M1212.86 411.8h9 M1212.86 455.2h9 M1287.04 390.6V470 M1282.54 390.6h9 M1282.54 470h9 M1391.56 355.3V406.9 M1387.06 355.3h9 M1387.06 406.9h9 M1426.4 269V331 M1421.9 269h9 M1421.9 331h9 M1461.24 321.6V397.8 M1456.74 321.6h9 M1456.74 397.8h9 M1496.08 328.3V391.1 M1491.58 328.3h9 M1491.58 391.1h9 M1530.92 447.6V482.6 M1526.42 447.6h9 M1526.42 482.6h9 M1565.76 416V458 M1561.26 416h9 M1561.26 458h9 M1600.6 511.7V544.7 M1596.1 511.7h9 M1596.1 544.7h9 M1635.44 455.4V487.4 M1630.94 455.4h9 M1630.94 487.4h9 M1670.28 221.8V260 M1665.78 221.8h9 M1665.78 260h9 M1705.12 379.5V432.5 M1700.62 379.5h9 M1700.62 432.5h9 M1739.96 337.4V384 M1735.46 337.4h9 M1735.46 384h9" fill="none" stroke="#BE0000" stroke-width="2.3"/>
<polyline points="1078,445.3 1112.84,262.4 1147.68,150.2 1182.52,290.1 1217.36,433.5 1287.04,430.3 1391.56,381.1 1426.4,300 1461.24,359.7 1496.08,359.7 1530.92,465.1 1565.76,437 1600.6,528.2 1635.44,471.4 1670.28,240.9 1705.12,406 1739.96,360.7" fill="none" stroke="#BE0000" stroke-width="2.2" stroke-dasharray="6.2 5.3"/>
<circle cx="1078" cy="445.3" r="9.15" fill="#C40000" stroke="#000" stroke-width="1.3"/>
<circle cx="1112.84" cy="262.4" r="9.15" fill="#C40000" stroke="#000" stroke-width="1.3"/>
<circle cx="1147.68" cy="150.2" r="9.15" fill="#C40000" stroke="#000" stroke-width="1.3"/>
<circle cx="1182.52" cy="290.1" r="9.15" fill="#C40000" stroke="#000" stroke-width="1.3"/>
<circle cx="1217.36" cy="433.5" r="9.15" fill="#C40000" stroke="#000" stroke-width="1.3"/>
<circle cx="1287.04" cy="430.3" r="9.15" fill="#C40000" stroke="#000" stroke-width="1.3"/>
<circle cx="1391.56" cy="381.1" r="9.15" fill="#C40000" stroke="#000" stroke-width="1.3"/>
<circle cx="1426.4" cy="300" r="9.15" fill="#C40000" stroke="#000" stroke-width="1.3"/>
<circle cx="1461.24" cy="359.7" r="9.15" fill="#C40000" stroke="#000" stroke-width="1.3"/>
<circle cx="1496.08" cy="359.7" r="9.15" fill="#C40000" stroke="#000" stroke-width="1.3"/>
<circle cx="1530.92" cy="465.1" r="9.15" fill="#C40000" stroke="#000" stroke-width="1.3"/>
<circle cx="1565.76" cy="437" r="9.15" fill="#C40000" stroke="#000" stroke-width="1.3"/>
<circle cx="1600.6" cy="528.2" r="9.15" fill="#C40000" stroke="#000" stroke-width="1.3"/>
<circle cx="1635.44" cy="471.4" r="9.15" fill="#C40000" stroke="#000" stroke-width="1.3"/>
<circle cx="1670.28" cy="240.9" r="9.15" fill="#C40000" stroke="#000" stroke-width="1.3"/>
<circle cx="1705.12" cy="406" r="9.15" fill="#C40000" stroke="#000" stroke-width="1.3"/>
<circle cx="1739.96" cy="360.7" r="9.15" fill="#C40000" stroke="#000" stroke-width="1.3"/>
<rect x="1041.5" y="3.3" width="724.55" height="724.7" fill="none" stroke="#000" stroke-width="2.2"/>
<path d="M1041.5 36.4h-12.8 M1041.5 118.8h-12.8 M1041.5 201.2h-12.8 M1041.5 283.6h-12.8 M1041.5 366h-12.8 M1041.5 448.4h-12.8 M1041.5 530.8h-12.8 M1041.5 613.2h-12.8 M1041.5 695.6h-12.8 M1072.4 728v12.9 M1142.08 728v12.9 M1211.76 728v12.9 M1281.44 728v12.9 M1351.12 728v12.9 M1420.8 728v12.9 M1490.48 728v12.9 M1560.16 728v12.9 M1629.84 728v12.9 M1699.52 728v12.9" fill="none" stroke="#000" stroke-width="2.3"/>
<g font-family='"Liberation Serif", serif' font-size="41" text-anchor="end">
<text transform="translate(1024.2 50.4) scale(0.895 1)">15.0</text>
<text transform="translate(1022.7 132.8) scale(0.895 1)">14.5</text>
<text transform="translate(1024.2 215.2) scale(0.895 1)">14.0</text>
<text transform="translate(1022.7 297.6) scale(0.895 1)">13.5</text>
<text transform="translate(1024.2 380) scale(0.895 1)">13.0</text>
<text transform="translate(1022.7 462.4) scale(0.895 1)">12.5</text>
<text transform="translate(1024.2 544.8) scale(0.895 1)">12.0</text>
<text transform="translate(1022.7 627.2) scale(0.895 1)">11.5</text>
<text transform="translate(1024.2 709.6) scale(0.895 1)">11.0</text>
</g>
<text x="1067" y="65.2" font-family='"Liberation Serif", serif' font-size="54.5">b</text>
</g>
<g id="panel-c">
<clipPath id="clip-c"><polygon points="175.9,1056 186.93,1059.26 197.96,1062.5 209,1065.72 220.03,1068.92 231.06,1072.09 242.09,1075.24 253.12,1078.35 264.15,1081.44 275.19,1084.49 286.22,1087.5 297.25,1090.47 308.28,1093.4 319.31,1096.28 330.34,1099.11 341.38,1101.89 352.41,1104.61 363.44,1107.26 374.47,1109.85 385.5,1112.36 396.53,1114.79 407.56,1117.13 418.6,1119.39 429.63,1121.54 440.66,1123.6 451.69,1125.55 462.72,1127.39 473.75,1129.11 484.79,1130.71 495.82,1132.19 506.85,1133.55 517.88,1134.78 528.91,1135.89 539.95,1136.86 550.98,1137.71 562.01,1138.45 573.04,1139.06 584.07,1139.57 595.1,1139.97 606.13,1140.27 617.17,1140.47 628.2,1140.59 639.23,1140.63 650.26,1140.59 661.29,1140.48 672.33,1140.3 683.36,1140.07 694.39,1139.78 705.42,1139.44 716.45,1139.05 727.48,1138.61 738.51,1138.14 749.55,1137.63 760.58,1137.08 771.61,1136.51 782.64,1135.9 793.67,1135.27 804.7,1134.61 815.74,1133.93 826.77,1133.22 837.8,1132.5 837.8,1300.5 826.77,1297.18 815.74,1293.88 804.7,1290.6 793.67,1287.35 782.64,1284.12 771.61,1280.91 760.58,1277.74 749.55,1274.6 738.51,1271.49 727.48,1268.42 716.45,1265.39 705.42,1262.4 694.39,1259.47 683.36,1256.58 672.33,1253.75 661.29,1250.97 650.26,1248.27 639.23,1245.63 628.2,1243.07 617.17,1240.59 606.13,1238.2 595.1,1235.91 584.07,1233.71 573.04,1231.62 562.01,1229.64 550.98,1227.77 539.95,1226.03 528.91,1224.41 517.88,1222.91 506.85,1221.55 495.82,1220.31 484.79,1219.21 473.75,1218.23 462.72,1217.37 451.69,1216.64 440.66,1216.02 429.63,1215.51 418.6,1215.11 407.56,1214.81 396.53,1214.61 385.5,1214.49 374.47,1214.45 363.44,1214.49 352.41,1214.6 341.38,1214.77 330.34,1215.01 319.31,1215.3 308.28,1215.65 297.25,1216.04 286.22,1216.47 275.19,1216.95 264.15,1217.46 253.12,1218.01 242.09,1218.58 231.06,1219.19 220.03,1219.83 209,1220.49 197.96,1221.17 186.93,1221.88 175.9,1222.6"/></clipPath>
<polygon points="175.9,1141 186.93,1144.07 197.96,1147.13 209,1150.17 220.03,1153.18 231.06,1156.18 242.09,1159.15 253.12,1162.1 264.15,1165.03 275.19,1167.92 286.22,1170.78 297.25,1173.61 308.28,1176.4 319.31,1179.14 330.34,1181.85 341.38,1184.5 352.41,1187.1 363.44,1189.64 374.47,1192.12 385.5,1194.52 396.53,1196.86 407.56,1199.11 418.6,1201.27 429.63,1203.34 440.66,1205.31 451.69,1207.18 462.72,1208.93 473.75,1210.57 484.79,1212.09 495.82,1213.48 506.85,1214.75 517.88,1215.89 528.91,1216.91 539.95,1217.8 550.98,1218.57 562.01,1219.22 573.04,1219.76 584.07,1220.19 595.1,1220.52 606.13,1220.76 617.17,1220.91 628.2,1220.97 639.23,1220.96 650.26,1220.88 661.29,1220.74 672.33,1220.54 683.36,1220.28 694.39,1219.98 705.42,1219.63 716.45,1219.24 727.48,1218.81 738.51,1218.34 749.55,1217.85 760.58,1217.32 771.61,1216.77 782.64,1216.19 793.67,1215.59 804.7,1214.97 815.74,1214.33 826.77,1213.67 837.8,1213 837.8,1363 826.77,1359.91 815.74,1356.83 804.7,1353.78 793.67,1350.74 782.64,1347.72 771.61,1344.73 760.58,1341.76 749.55,1338.82 738.51,1335.91 727.48,1333.03 716.45,1330.18 705.42,1327.37 694.39,1324.6 683.36,1321.88 672.33,1319.21 661.29,1316.59 650.26,1314.03 639.23,1311.54 628.2,1309.11 617.17,1306.76 606.13,1304.49 595.1,1302.31 584.07,1300.23 573.04,1298.24 562.01,1296.36 550.98,1294.6 539.95,1292.95 528.91,1291.42 517.88,1290.02 506.85,1288.75 495.82,1287.6 484.79,1286.58 473.75,1285.68 462.72,1284.9 451.69,1284.24 440.66,1283.69 429.63,1283.24 418.6,1282.9 407.56,1282.64 396.53,1282.48 385.5,1282.39 374.47,1282.38 363.44,1282.44 352.41,1282.57 341.38,1282.75 330.34,1282.99 319.31,1283.27 308.28,1283.6 297.25,1283.98 286.22,1284.39 275.19,1284.83 264.15,1285.31 253.12,1285.81 242.09,1286.35 231.06,1286.9 220.03,1287.48 209,1288.08 197.96,1288.71 186.93,1289.34 175.9,1290" fill="#DDECFB"/>
<polygon points="175.9,1056 186.93,1059.26 197.96,1062.5 209,1065.72 220.03,1068.92 231.06,1072.09 242.09,1075.24 253.12,1078.35 264.15,1081.44 275.19,1084.49 286.22,1087.5 297.25,1090.47 308.28,1093.4 319.31,1096.28 330.34,1099.11 341.38,1101.89 352.41,1104.61 363.44,1107.26 374.47,1109.85 385.5,1112.36 396.53,1114.79 407.56,1117.13 418.6,1119.39 429.63,1121.54 440.66,1123.6 451.69,1125.55 462.72,1127.39 473.75,1129.11 484.79,1130.71 495.82,1132.19 506.85,1133.55 517.88,1134.78 528.91,1135.89 539.95,1136.86 550.98,1137.71 562.01,1138.45 573.04,1139.06 584.07,1139.57 595.1,1139.97 606.13,1140.27 617.17,1140.47 628.2,1140.59 639.23,1140.63 650.26,1140.59 661.29,1140.48 672.33,1140.3 683.36,1140.07 694.39,1139.78 705.42,1139.44 716.45,1139.05 727.48,1138.61 738.51,1138.14 749.55,1137.63 760.58,1137.08 771.61,1136.51 782.64,1135.9 793.67,1135.27 804.7,1134.61 815.74,1133.93 826.77,1133.22 837.8,1132.5 837.8,1300.5 826.77,1297.18 815.74,1293.88 804.7,1290.6 793.67,1287.35 782.64,1284.12 771.61,1280.91 760.58,1277.74 749.55,1274.6 738.51,1271.49 727.48,1268.42 716.45,1265.39 705.42,1262.4 694.39,1259.47 683.36,1256.58 672.33,1253.75 661.29,1250.97 650.26,1248.27 639.23,1245.63 628.2,1243.07 617.17,1240.59 606.13,1238.2 595.1,1235.91 584.07,1233.71 573.04,1231.62 562.01,1229.64 550.98,1227.77 539.95,1226.03 528.91,1224.41 517.88,1222.91 506.85,1221.55 495.82,1220.31 484.79,1219.21 473.75,1218.23 462.72,1217.37 451.69,1216.64 440.66,1216.02 429.63,1215.51 418.6,1215.11 407.56,1214.81 396.53,1214.61 385.5,1214.49 374.47,1214.45 363.44,1214.49 352.41,1214.6 341.38,1214.77 330.34,1215.01 319.31,1215.3 308.28,1215.65 297.25,1216.04 286.22,1216.47 275.19,1216.95 264.15,1217.46 253.12,1218.01 242.09,1218.58 231.06,1219.19 220.03,1219.83 209,1220.49 197.96,1221.17 186.93,1221.88 175.9,1222.6" fill="#FFE9E6"/>
<polygon points="175.9,1141 186.93,1144.07 197.96,1147.13 209,1150.17 220.03,1153.18 231.06,1156.18 242.09,1159.15 253.12,1162.1 264.15,1165.03 275.19,1167.92 286.22,1170.78 297.25,1173.61 308.28,1176.4 319.31,1179.14 330.34,1181.85 341.38,1184.5 352.41,1187.1 363.44,1189.64 374.47,1192.12 385.5,1194.52 396.53,1196.86 407.56,1199.11 418.6,1201.27 429.63,1203.34 440.66,1205.31 451.69,1207.18 462.72,1208.93 473.75,1210.57 484.79,1212.09 495.82,1213.48 506.85,1214.75 517.88,1215.89 528.91,1216.91 539.95,1217.8 550.98,1218.57 562.01,1219.22 573.04,1219.76 584.07,1220.19 595.1,1220.52 606.13,1220.76 617.17,1220.91 628.2,1220.97 639.23,1220.96 650.26,1220.88 661.29,1220.74 672.33,1220.54 683.36,1220.28 694.39,1219.98 705.42,1219.63 716.45,1219.24 727.48,1218.81 738.51,1218.34 749.55,1217.85 760.58,1217.32 771.61,1216.77 782.64,1216.19 793.67,1215.59 804.7,1214.97 815.74,1214.33 826.77,1213.67 837.8,1213 837.8,1363 826.77,1359.91 815.74,1356.83 804.7,1353.78 793.67,1350.74 782.64,1347.72 771.61,1344.73 760.58,1341.76 749.55,1338.82 738.51,1335.91 727.48,1333.03 716.45,1330.18 705.42,1327.37 694.39,1324.6 683.36,1321.88 672.33,1319.21 661.29,1316.59 650.26,1314.03 639.23,1311.54 628.2,1309.11 617.17,1306.76 606.13,1304.49 595.1,1302.31 584.07,1300.23 573.04,1298.24 562.01,1296.36 550.98,1294.6 539.95,1292.95 528.91,1291.42 517.88,1290.02 506.85,1288.75 495.82,1287.6 484.79,1286.58 473.75,1285.68 462.72,1284.9 451.69,1284.24 440.66,1283.69 429.63,1283.24 418.6,1282.9 407.56,1282.64 396.53,1282.48 385.5,1282.39 374.47,1282.38 363.44,1282.44 352.41,1282.57 341.38,1282.75 330.34,1282.99 319.31,1283.27 308.28,1283.6 297.25,1283.98 286.22,1284.39 275.19,1284.83 264.15,1285.31 253.12,1285.81 242.09,1286.35 231.06,1286.9 220.03,1287.48 209,1288.08 197.96,1288.71 186.93,1289.34 175.9,1290" fill="#F0DEE8" clip-path="url(#clip-c)"/>
<polyline points="175.9,1141 186.93,1144.07 197.96,1147.13 209,1150.17 220.03,1153.18 231.06,1156.18 242.09,1159.15 253.12,1162.1 264.15,1165.03 275.19,1167.92 286.22,1170.78 297.25,1173.61 308.28,1176.4 319.31,1179.14 330.34,1181.85 341.38,1184.5 352.41,1187.1 363.44,1189.64 374.47,1192.12 385.5,1194.52 396.53,1196.86 407.56,1199.11 418.6,1201.27 429.63,1203.34 440.66,1205.31 451.69,1207.18 462.72,1208.93 473.75,1210.57 484.79,1212.09 495.82,1213.48 506.85,1214.75 517.88,1215.89 528.91,1216.91 539.95,1217.8 550.98,1218.57 562.01,1219.22 573.04,1219.76 584.07,1220.19 595.1,1220.52 606.13,1220.76 617.17,1220.91 628.2,1220.97 639.23,1220.96 650.26,1220.88 661.29,1220.74 672.33,1220.54 683.36,1220.28 694.39,1219.98 705.42,1219.63 716.45,1219.24 727.48,1218.81 738.51,1218.34 749.55,1217.85 760.58,1217.32 771.61,1216.77 782.64,1216.19 793.67,1215.59 804.7,1214.97 815.74,1214.33 826.77,1213.67 837.8,1213" stroke="#4896E4" fill="none" stroke-width="1.9" stroke-linecap="round" stroke-dasharray="0.1 6.75"/>
<polyline points="175.9,1141 186.93,1144.07 197.96,1147.13 209,1150.17 220.03,1153.18 231.06,1156.18 242.09,1159.15 253.12,1162.1 264.15,1165.03 275.19,1167.92 286.22,1170.78 297.25,1173.61 308.28,1176.4 319.31,1179.14 330.34,1181.85 341.38,1184.5 352.41,1187.1 363.44,1189.64 374.47,1192.12 385.5,1194.52 396.53,1196.86 407.56,1199.11 418.6,1201.27 429.63,1203.34 440.66,1205.31 451.69,1207.18 462.72,1208.93 473.75,1210.57 484.79,1212.09 495.82,1213.48 506.85,1214.75 517.88,1215.89 528.91,1216.91 539.95,1217.8 550.98,1218.57 562.01,1219.22 573.04,1219.76 584.07,1220.19 595.1,1220.52 606.13,1220.76 617.17,1220.91 628.2,1220.97 639.23,1220.96 650.26,1220.88 661.29,1220.74 672.33,1220.54 683.36,1220.28 694.39,1219.98 705.42,1219.63 716.45,1219.24 727.48,1218.81 738.51,1218.34 749.55,1217.85 760.58,1217.32 771.61,1216.77 782.64,1216.19 793.67,1215.59 804.7,1214.97 815.74,1214.33 826.77,1213.67 837.8,1213" stroke="#8FA6DE" fill="none" stroke-width="1.9" stroke-linecap="round" stroke-dasharray="0.1 6.75" clip-path="url(#clip-c)"/>
<polyline points="175.9,1290 186.93,1289.34 197.96,1288.71 209,1288.08 220.03,1287.48 231.06,1286.9 242.09,1286.35 253.12,1285.81 264.15,1285.31 275.19,1284.83 286.22,1284.39 297.25,1283.98 308.28,1283.6 319.31,1283.27 330.34,1282.99 341.38,1282.75 352.41,1282.57 363.44,1282.44 374.47,1282.38 385.5,1282.39 396.53,1282.48 407.56,1282.64 418.6,1282.9 429.63,1283.24 440.66,1283.69 451.69,1284.24 462.72,1284.9 473.75,1285.68 484.79,1286.58 495.82,1287.6 506.85,1288.75 517.88,1290.02 528.91,1291.42 539.95,1292.95 550.98,1294.6 562.01,1296.36 573.04,1298.24 584.07,1300.23 595.1,1302.31 606.13,1304.49 617.17,1306.76 628.2,1309.11 639.23,1311.54 650.26,1314.03 661.29,1316.59 672.33,1319.21 683.36,1321.88 694.39,1324.6 705.42,1327.37 716.45,1330.18 727.48,1333.03 738.51,1335.91 749.55,1338.82 760.58,1341.76 771.61,1344.73 782.64,1347.72 793.67,1350.74 804.7,1353.78 815.74,1356.83 826.77,1359.91 837.8,1363" stroke="#4896E4" fill="none" stroke-width="1.9" stroke-linecap="round" stroke-dasharray="0.1 6.75"/>
<polyline points="175.9,1290 186.93,1289.34 197.96,1288.71 209,1288.08 220.03,1287.48 231.06,1286.9 242.09,1286.35 253.12,1285.81 264.15,1285.31 275.19,1284.83 286.22,1284.39 297.25,1283.98 308.28,1283.6 319.31,1283.27 330.34,1282.99 341.38,1282.75 352.41,1282.57 363.44,1282.44 374.47,1282.38 385.5,1282.39 396.53,1282.48 407.56,1282.64 418.6,1282.9 429.63,1283.24 440.66,1283.69 451.69,1284.24 462.72,1284.9 473.75,1285.68 484.79,1286.58 495.82,1287.6 506.85,1288.75 517.88,1290.02 528.91,1291.42 539.95,1292.95 550.98,1294.6 562.01,1296.36 573.04,1298.24 584.07,1300.23 595.1,1302.31 606.13,1304.49 617.17,1306.76 628.2,1309.11 639.23,1311.54 650.26,1314.03 661.29,1316.59 672.33,1319.21 683.36,1321.88 694.39,1324.6 705.42,1327.37 716.45,1330.18 727.48,1333.03 738.51,1335.91 749.55,1338.82 760.58,1341.76 771.61,1344.73 782.64,1347.72 793.67,1350.74 804.7,1353.78 815.74,1356.83 826.77,1359.91 837.8,1363" stroke="#8FA6DE" fill="none" stroke-width="1.9" stroke-linecap="round" stroke-dasharray="0.1 6.75" clip-path="url(#clip-c)"/>
<line x1="175.9" y1="1215.5" x2="837.8" y2="1288" stroke="#0A0AF0" stroke-width="4.6"/>
<line x1="175.9" y1="1215.5" x2="837.8" y2="1288" stroke="#4122E2" stroke-width="4.6" clip-path="url(#clip-c)"/>
<polyline points="175.9,1056 186.93,1059.26 197.96,1062.5 209,1065.72 220.03,1068.92 231.06,1072.09 242.09,1075.24 253.12,1078.35 264.15,1081.44 275.19,1084.49 286.22,1087.5 297.25,1090.47 308.28,1093.4 319.31,1096.28 330.34,1099.11 341.38,1101.89 352.41,1104.61 363.44,1107.26 374.47,1109.85 385.5,1112.36 396.53,1114.79 407.56,1117.13 418.6,1119.39 429.63,1121.54 440.66,1123.6 451.69,1125.55 462.72,1127.39 473.75,1129.11 484.79,1130.71 495.82,1132.19 506.85,1133.55 517.88,1134.78 528.91,1135.89 539.95,1136.86 550.98,1137.71 562.01,1138.45 573.04,1139.06 584.07,1139.57 595.1,1139.97 606.13,1140.27 617.17,1140.47 628.2,1140.59 639.23,1140.63 650.26,1140.59 661.29,1140.48 672.33,1140.3 683.36,1140.07 694.39,1139.78 705.42,1139.44 716.45,1139.05 727.48,1138.61 738.51,1138.14 749.55,1137.63 760.58,1137.08 771.61,1136.51 782.64,1135.9 793.67,1135.27 804.7,1134.61 815.74,1133.93 826.77,1133.22 837.8,1132.5" stroke="#FF9E9E" fill="none" stroke-width="1.9" stroke-linecap="round" stroke-dasharray="0.1 6.75"/>
<polyline points="175.9,1222.6 186.93,1221.88 197.96,1221.17 209,1220.49 220.03,1219.83 231.06,1219.19 242.09,1218.58 253.12,1218.01 264.15,1217.46 275.19,1216.95 286.22,1216.47 297.25,1216.04 308.28,1215.65 319.31,1215.3 330.34,1215.01 341.38,1214.77 352.41,1214.6 363.44,1214.49 374.47,1214.45 385.5,1214.49 396.53,1214.61 407.56,1214.81 418.6,1215.11 429.63,1215.51 440.66,1216.02 451.69,1216.64 462.72,1217.37 473.75,1218.23 484.79,1219.21 495.82,1220.31 506.85,1221.55 517.88,1222.91 528.91,1224.41 539.95,1226.03 550.98,1227.77 562.01,1229.64 573.04,1231.62 584.07,1233.71 595.1,1235.91 606.13,1238.2 617.17,1240.59 628.2,1243.07 639.23,1245.63 650.26,1248.27 661.29,1250.97 672.33,1253.75 683.36,1256.58 694.39,1259.47 705.42,1262.4 716.45,1265.39 727.48,1268.42 738.51,1271.49 749.55,1274.6 760.58,1277.74 771.61,1280.91 782.64,1284.12 793.67,1287.35 804.7,1290.6 815.74,1293.88 826.77,1297.18 837.8,1300.5" stroke="#FF9E9E" fill="none" stroke-width="1.9" stroke-linecap="round" stroke-dasharray="0.1 6.75"/>
<line x1="175.9" y1="1138.6" x2="837.8" y2="1216.5" stroke="#BE0000" stroke-width="4.6"/>
<path d="M170.8 1199.1V1279.1 M166.3 1199.1h9 M166.3 1279.1h9 M205.64 1059.5V1131.9 M201.14 1059.5h9 M201.14 1131.9h9 M240.48 1217.7V1339.7 M235.98 1217.7h9 M235.98 1339.7h9 M275.32 1237.5V1299.7 M270.82 1237.5h9 M270.82 1299.7h9 M310.16 1196.2V1264.8 M305.66 1196.2h9 M305.66 1264.8h9 M345 1142.1V1204.3 M340.5 1142.1h9 M340.5 1204.3h9 M379.84 1263.6V1320 M375.34 1263.6h9 M375.34 1320h9 M414.68 1366.1V1451.3 M410.18 1366.1h9 M410.18 1451.3h9 M449.52 1099.7V1164.7 M445.02 1099.7h9 M445.02 1164.7h9 M484.36 1197.7V1253.9 M479.86 1197.7h9 M479.86 1253.9h9 M519.2 1161.6V1223.8 M514.7 1161.6h9 M514.7 1223.8h9 M554.04 1260.5V1316.5 M549.54 1260.5h9 M549.54 1316.5h9 M588.88 1151.6V1197.8 M584.38 1151.6h9 M584.38 1197.8h9 M623.72 1374.8V1439.6 M619.22 1374.8h9 M619.22 1439.6h9 M658.56 1305V1354 M654.06 1305h9 M654.06 1354h9 M693.4 1136.7V1202.7 M688.9 1136.7h9 M688.9 1202.7h9 M728.24 1246V1288.2 M723.74 1246h9 M723.74 1288.2h9 M763.08 1214.1V1267.1 M758.58 1214.1h9 M758.58 1267.1h9 M797.92 1326V1382.2 M793.42 1326h9 M793.42 1382.2h9 M832.76 1230.5V1299.5 M828.26 1230.5h9 M828.26 1299.5h9" fill="none" stroke="#1A9FEE" stroke-width="2.3"/>
<polyline points="170.8,1239.1 205.64,1095.7 240.48,1278.7 275.32,1268.6 310.16,1230.5 345,1173.2 379.84,1291.8 414.68,1408.7 449.52,1132.2 484.36,1225.8 519.2,1192.7 554.04,1288.5 588.88,1174.7 623.72,1407.2 658.56,1329.5 693.4,1169.7 728.24,1267.1 763.08,1240.6 797.92,1354.1 832.76,1265" fill="none" stroke="#1A9FEE" stroke-width="2.2"/>
<circle cx="170.8" cy="1239.1" r="9.1" fill="#12A4F5" stroke="#000" stroke-width="2.5"/>
<circle cx="205.64" cy="1095.7" r="9.1" fill="#12A4F5" stroke="#000" stroke-width="2.5"/>
<circle cx="240.48" cy="1278.7" r="9.1" fill="#12A4F5" stroke="#000" stroke-width="2.5"/>
<circle cx="275.32" cy="1268.6" r="9.1" fill="#12A4F5" stroke="#000" stroke-width="2.5"/>
<circle cx="310.16" cy="1230.5" r="9.1" fill="#12A4F5" stroke="#000" stroke-width="2.5"/>
<circle cx="345" cy="1173.2" r="9.1" fill="#12A4F5" stroke="#000" stroke-width="2.5"/>
<circle cx="379.84" cy="1291.8" r="9.1" fill="#12A4F5" stroke="#000" stroke-width="2.5"/>
<circle cx="414.68" cy="1408.7" r="9.1" fill="#12A4F5" stroke="#000" stroke-width="2.5"/>
<circle cx="449.52" cy="1132.2" r="9.1" fill="#12A4F5" stroke="#000" stroke-width="2.5"/>
<circle cx="484.36" cy="1225.8" r="9.1" fill="#12A4F5" stroke="#000" stroke-width="2.5"/>
<circle cx="519.2" cy="1192.7" r="9.1" fill="#12A4F5" stroke="#000" stroke-width="2.5"/>
<circle cx="554.04" cy="1288.5" r="9.1" fill="#12A4F5" stroke="#000" stroke-width="2.5"/>
<circle cx="588.88" cy="1174.7" r="9.1" fill="#12A4F5" stroke="#000" stroke-width="2.5"/>
<circle cx="623.72" cy="1407.2" r="9.1" fill="#12A4F5" stroke="#000" stroke-width="2.5"/>
<circle cx="658.56" cy="1329.5" r="9.1" fill="#12A4F5" stroke="#000" stroke-width="2.5"/>
<circle cx="693.4" cy="1169.7" r="9.1" fill="#12A4F5" stroke="#000" stroke-width="2.5"/>
<circle cx="728.24" cy="1267.1" r="9.1" fill="#12A4F5" stroke="#000" stroke-width="2.5"/>
<circle cx="763.08" cy="1240.6" r="9.1" fill="#12A4F5" stroke="#000" stroke-width="2.5"/>
<circle cx="797.92" cy="1354.1" r="9.1" fill="#12A4F5" stroke="#000" stroke-width="2.5"/>
<circle cx="832.76" cy="1265" r="9.1" fill="#12A4F5" stroke="#000" stroke-width="2.5"/>
<path d="M181.3 1149.9V1258.3 M176.8 1149.9h9 M176.8 1258.3h9 M216.14 985.5V1054.7 M211.64 985.5h9 M211.64 1054.7h9 M250.98 1097.5V1166.9 M246.48 1097.5h9 M246.48 1166.9h9 M285.82 1178V1240 M281.32 1178h9 M281.32 1240h9 M320.66 1146.5V1205.9 M316.16 1146.5h9 M316.16 1205.9h9 M355.5 1059.8V1115.6 M351 1059.8h9 M351 1115.6h9 M390.34 1214.7V1296.7 M385.84 1214.7h9 M385.84 1296.7h9 M425.18 1334.6V1394.2 M420.68 1334.6h9 M420.68 1394.2h9 M460.02 989.8V1089 M455.52 989.8h9 M455.52 1089h9 M494.86 1185.9V1239.5 M490.36 1185.9h9 M490.36 1239.5h9 M529.7 1016.3V1082.7 M525.2 1016.3h9 M525.2 1082.7h9 M564.54 1094.2V1143.6 M560.04 1094.2h9 M560.04 1143.6h9 M599.38 1052.5V1115.3 M594.88 1052.5h9 M594.88 1115.3h9 M634.22 1309.9V1365.7 M629.72 1309.9h9 M629.72 1365.7h9 M669.06 1188.3V1240.5 M664.56 1188.3h9 M664.56 1240.5h9 M703.9 1189.8V1235.6 M699.4 1189.8h9 M699.4 1235.6h9 M738.74 1202.4V1245.8 M734.24 1202.4h9 M734.24 1245.8h9 M773.58 1122.2V1168 M769.08 1122.2h9 M769.08 1168h9 M808.42 1226.3V1271.3 M803.92 1226.3h9 M803.92 1271.3h9 M843.26 1189.3V1255.5 M838.76 1189.3h9 M838.76 1255.5h9" fill="none" stroke="#BE0000" stroke-width="2.3"/>
<polyline points="181.3,1204.1 216.14,1020.1 250.98,1132.2 285.82,1209 320.66,1176.2 355.5,1087.7 390.34,1255.7 425.18,1364.4 460.02,1039.4 494.86,1212.7 529.7,1049.5 564.54,1118.9 599.38,1083.9 634.22,1337.8 669.06,1214.4 703.9,1212.7 738.74,1224.1 773.58,1145.1 808.42,1248.8 843.26,1222.4" fill="none" stroke="#BE0000" stroke-width="2.2" stroke-dasharray="6.2 5.3"/>
<circle cx="181.3" cy="1204.1" r="9.15" fill="#C40000" stroke="#000" stroke-width="1.3"/>
<circle cx="216.14" cy="1020.1" r="9.15" fill="#C40000" stroke="#000" stroke-width="1.3"/>
<circle cx="250.98" cy="1132.2" r="9.15" fill="#C40000" stroke="#000" stroke-width="1.3"/>
<circle cx="285.82" cy="1209" r="9.15" fill="#C40000" stroke="#000" stroke-width="1.3"/>
<circle cx="320.66" cy="1176.2" r="9.15" fill="#C40000" stroke="#000" stroke-width="1.3"/>
<circle cx="355.5" cy="1087.7" r="9.15" fill="#C40000" stroke="#000" stroke-width="1.3"/>
<circle cx="390.34" cy="1255.7" r="9.15" fill="#C40000" stroke="#000" stroke-width="1.3"/>
<circle cx="425.18" cy="1364.4" r="9.15" fill="#C40000" stroke="#000" stroke-width="1.3"/>
<circle cx="460.02" cy="1039.4" r="9.15" fill="#C40000" stroke="#000" stroke-width="1.3"/>
<circle cx="494.86" cy="1212.7" r="9.15" fill="#C40000" stroke="#000" stroke-width="1.3"/>
<circle cx="529.7" cy="1049.5" r="9.15" fill="#C40000" stroke="#000" stroke-width="1.3"/>
<circle cx="564.54" cy="1118.9" r="9.15" fill="#C40000" stroke="#000" stroke-width="1.3"/>
<circle cx="599.38" cy="1083.9" r="9.15" fill="#C40000" stroke="#000" stroke-width="1.3"/>
<circle cx="634.22" cy="1337.8" r="9.15" fill="#C40000" stroke="#000" stroke-width="1.3"/>
<circle cx="669.06" cy="1214.4" r="9.15" fill="#C40000" stroke="#000" stroke-width="1.3"/>
<circle cx="703.9" cy="1212.7" r="9.15" fill="#C40000" stroke="#000" stroke-width="1.3"/>
<circle cx="738.74" cy="1224.1" r="9.15" fill="#C40000" stroke="#000" stroke-width="1.3"/>
<circle cx="773.58" cy="1145.1" r="9.15" fill="#C40000" stroke="#000" stroke-width="1.3"/>
<circle cx="808.42" cy="1248.8" r="9.15" fill="#C40000" stroke="#000" stroke-width="1.3"/>
<circle cx="843.26" cy="1222.4" r="9.15" fill="#C40000" stroke="#000" stroke-width="1.3"/>
<rect x="144.7" y="805.3" width="724.4" height="724.7" fill="none" stroke="#000" stroke-width="2.2"/>
<path d="M144.7 838.1h-12.8 M144.7 920.54h-12.8 M144.7 1002.98h-12.8 M144.7 1085.42h-12.8 M144.7 1167.86h-12.8 M144.7 1250.3h-12.8 M144.7 1332.74h-12.8 M144.7 1415.18h-12.8 M144.7 1497.62h-12.8 M175.5 1530v12.9 M245.18 1530v12.9 M314.86 1530v12.9 M384.54 1530v12.9 M454.22 1530v12.9 M523.9 1530v12.9 M593.58 1530v12.9 M663.26 1530v12.9 M732.94 1530v12.9 M802.62 1530v12.9" fill="none" stroke="#000" stroke-width="2.3"/>
<g font-family='"Liberation Serif", serif' font-size="41" text-anchor="end">
<text transform="translate(127.4 852.1) scale(0.895 1)">16.0</text>
<text transform="translate(125.9 934.54) scale(0.895 1)">15.5</text>
<text transform="translate(127.4 1016.98) scale(0.895 1)">15.0</text>
<text transform="translate(125.9 1099.42) scale(0.895 1)">14.5</text>
<text transform="translate(127.4 1181.86) scale(0.895 1)">14.0</text>
<text transform="translate(125.9 1264.3) scale(0.895 1)">13.5</text>
<text transform="translate(127.4 1346.74) scale(0.895 1)">13.0</text>
<text transform="translate(125.9 1429.18) scale(0.895 1)">12.5</text>
<text transform="translate(127.4 1511.62) scale(0.895 1)">12.0</text>
</g>
<text x="165" y="855.1" font-family='"Liberation Serif", serif' font-size="54.5">c</text>
<g font-family='"Liberation Serif", serif' font-size="38.5" text-anchor="end">
<text transform="translate(187.9 1579.2) rotate(-45)">1998</text>
<text transform="translate(257.58 1579.2) rotate(-45)">2000</text>
<text transform="translate(327.26 1579.2) rotate(-45)">2002</text>
<text transform="translate(396.94 1579.2) rotate(-45)">2004</text>
<text transform="translate(466.62 1579.2) rotate(-45)">2006</text>
<text transform="translate(536.3 1579.2) rotate(-45)">2008</text>
<text transform="translate(605.98 1579.2) rotate(-45)">2010</text>
<text transform="translate(675.66 1579.2) rotate(-45)">2012</text>
<text transform="translate(745.34 1579.2) rotate(-45)">2014</text>
<text transform="translate(815.02 1579.2) rotate(-45)">2016</text>
</g>
<text x="508.5" y="1675.5" font-family='"Liberation Serif", serif' font-size="43.5" text-anchor="middle">Year</text>
<text transform="translate(36 1168.15) rotate(-90)" font-family='"Liberation Serif", serif' font-size="44.5" text-anchor="middle">Mean body condition (g)</text>
</g>
<g id="panel-d">
<line x1="1072.8" y1="981.1" x2="1734.7" y2="1072.3" stroke="#BE0000" stroke-width="4.4" stroke-dasharray="12 11" stroke-linecap="butt"/>
<line x1="1072.8" y1="1035.8" x2="1734.7" y2="1094.9" stroke="#BE0000" stroke-width="4.4"/>
<line x1="1072.8" y1="1243" x2="1734.7" y2="1285.6" stroke="#0000F0" stroke-width="4.8" stroke-dasharray="12 11" stroke-linecap="butt"/>
<line x1="1072.8" y1="1284.8" x2="1734.7" y2="1324.4" stroke="#0000F0" stroke-width="4.8"/>
<line x1="1072.8" y1="1326" x2="1734.7" y2="1376.6" stroke="#FA9A34" stroke-width="4.4" stroke-dasharray="12 11" stroke-linecap="butt"/>
<line x1="1072.8" y1="1350.3" x2="1734.7" y2="1407.7" stroke="#FA9A34" stroke-width="4.4"/>
<rect x="1041.5" y="805.3" width="724.55" height="724.8" fill="none" stroke="#000" stroke-width="2.2"/>
<path d="M1041.5 805.3h-12.8 M1041.5 896.2h-12.8 M1041.5 986.85h-12.8 M1041.5 1077.5h-12.8 M1041.5 1168.15h-12.8 M1041.5 1258.8h-12.8 M1041.5 1349.45h-12.8 M1041.5 1440.1h-12.8 M1041.5 1530.1h-12.8 M1072.4 1530.1v12.9 M1142.08 1530.1v12.9 M1211.76 1530.1v12.9 M1281.44 1530.1v12.9 M1351.12 1530.1v12.9 M1420.8 1530.1v12.9 M1490.48 1530.1v12.9 M1560.16 1530.1v12.9 M1629.84 1530.1v12.9 M1699.52 1530.1v12.9" fill="none" stroke="#000" stroke-width="2.3"/>
<g font-family='"Liberation Serif", serif' font-size="41" text-anchor="end">
<text transform="translate(1024.2 819.3) scale(0.895 1)">19.0</text>
<text transform="translate(1024.2 910.2) scale(0.895 1)">18.0</text>
<text transform="translate(1024.2 1000.85) scale(0.895 1)">17.0</text>
<text transform="translate(1024.2 1091.5) scale(0.895 1)">16.0</text>
<text transform="translate(1024.2 1182.15) scale(0.895 1)">15.0</text>
<text transform="translate(1024.2 1272.8) scale(0.895 1)">14.0</text>
<text transform="translate(1024.2 1363.45) scale(0.895 1)">13.0</text>
<text transform="translate(1024.2 1454.1) scale(0.895 1)">12.0</text>
<text transform="translate(1024.2 1544.1) scale(0.895 1)">11.0</text>
</g>
<text x="1072" y="867.3" font-family='"Liberation Serif", serif' font-size="54.5">d</text>
<g font-family='"Liberation Serif", serif' font-size="38.5" text-anchor="end">
<text transform="translate(1084.8 1579.3) rotate(-45)">1998</text>
<text transform="translate(1154.48 1579.3) rotate(-45)">2000</text>
<text transform="translate(1224.16 1579.3) rotate(-45)">2002</text>
<text transform="translate(1293.84 1579.3) rotate(-45)">2004</text>
<text transform="translate(1363.52 1579.3) rotate(-45)">2006</text>
<text transform="translate(1433.2 1579.3) rotate(-45)">2008</text>
<text transform="translate(1502.88 1579.3) rotate(-45)">2010</text>
<text transform="translate(1572.56 1579.3) rotate(-45)">2012</text>
<text transform="translate(1642.24 1579.3) rotate(-45)">2014</text>
<text transform="translate(1711.92 1579.3) rotate(-45)">2016</text>
</g>
<text x="1405.38" y="1675.5" font-family='"Liberation Serif", serif' font-size="43.5" text-anchor="middle">Year</text>
<g font-family='"Liberation Sans", sans-serif' font-size="37.4" text-anchor="end">
<text x="1744.5" y="996">Onset of hibernation</text>
<text x="1744.5" y="1231.5">End of hibernation</text>
<text x="1744.5" y="1476.5">Activity period</text>
</g>
<filter id="soft" x="-5%%" y="-5%%" width="110%%" height="110%%"><feGaussianBlur stdDeviation="0.55"/></filter>
<polygon points="1609.9,940.76 1612.67,930.86 1619.8,917.4 1627.71,903.14 1635.63,892.06 1645.93,897.21 1655.43,901.96 1660.97,902.75 1658.99,896.02 1656.22,890.48 1657.01,885.72 1663.35,881.76 1667.31,878.99 1669.68,882.56 1672.85,884.93 1677.6,884.93 1681.56,882.56 1683.54,877.01 1682.75,869.1 1680.77,861.18 1679.19,854.84 1677.21,852.47 1687.1,848.51 1698.98,842.96 1710.86,837.42 1722.74,833.86 1730.66,833.46 1728.28,842.17 1725.9,851.67 1719.57,858.8 1714.03,865.14 1710.86,873.85 1709.67,882.56 1706.11,884.93 1703.73,891.27 1704.52,899.19 1705.32,907.9 1709.28,911.06 1713.24,914.23 1708.48,915.02 1706.11,918.98 1706.9,924.52 1707.69,930.07 1701.36,928.48 1695.02,929.28 1691.86,934.82 1690.27,935.61 1688.69,930.86 1687.1,926.9 1679.19,924.92 1667.31,925.32 1660.18,926.5 1657.81,930.07 1654.64,928.48 1647.51,927.69 1639.59,930.46 1633.26,935.61 1626.92,940.36 1619.8,940.36" fill="#000" filter="url(#soft)"/>
</g>
</svg>
</body></html>
